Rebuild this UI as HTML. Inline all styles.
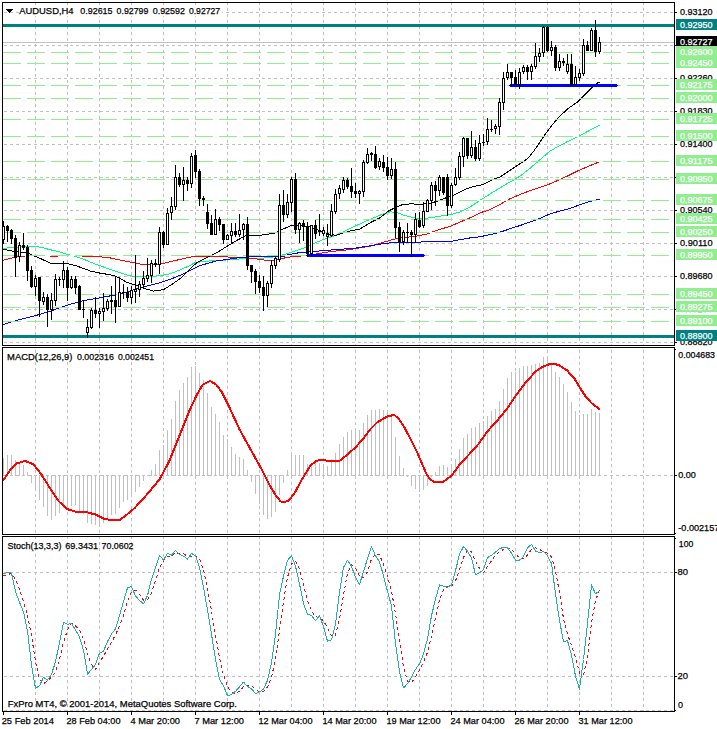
<!DOCTYPE html>
<html><head><meta charset="utf-8"><title>AUDUSD,H4</title>
<style>html,body{margin:0;padding:0;background:#fff;}body{width:717px;height:729px;overflow:hidden;font-family:"Liberation Sans",sans-serif;}svg text{font-family:"Liberation Sans",sans-serif;}</style>
</head><body><svg width="717" height="729" viewBox="0 0 717 729" shape-rendering="crispEdges" font-family="Liberation Sans, sans-serif" style="display:block"><rect x="0" y="0" width="717" height="729" fill="#fff"/>
<path fill="#c0c0c0" d="M35 3h1v2h-1zM35 8h1v3h-1zM35 14h1v3h-1zM35 20h1v3h-1zM35 26h1v3h-1zM35 32h1v3h-1zM35 38h1v3h-1zM35 44h1v3h-1zM35 50h1v3h-1zM35 56h1v3h-1zM35 62h1v3h-1zM35 68h1v3h-1zM35 74h1v3h-1zM35 80h1v3h-1zM35 86h1v3h-1zM35 92h1v3h-1zM35 98h1v3h-1zM35 104h1v3h-1zM35 110h1v3h-1zM35 116h1v3h-1zM35 122h1v3h-1zM35 128h1v3h-1zM35 134h1v3h-1zM35 140h1v3h-1zM35 146h1v3h-1zM35 152h1v3h-1zM35 158h1v3h-1zM35 164h1v3h-1zM35 170h1v3h-1zM35 176h1v3h-1zM35 182h1v3h-1zM35 188h1v3h-1zM35 194h1v3h-1zM35 200h1v3h-1zM35 206h1v3h-1zM35 212h1v3h-1zM35 218h1v3h-1zM35 224h1v3h-1zM35 230h1v3h-1zM35 236h1v3h-1zM35 242h1v3h-1zM35 248h1v3h-1zM35 254h1v3h-1zM35 260h1v3h-1zM35 266h1v3h-1zM35 272h1v3h-1zM35 278h1v3h-1zM35 284h1v3h-1zM35 290h1v3h-1zM35 296h1v3h-1zM35 302h1v3h-1zM35 308h1v3h-1zM35 314h1v3h-1zM35 320h1v3h-1zM35 326h1v3h-1zM35 332h1v3h-1zM35 338h1v3h-1zM35 344h1v1h-1zM67 3h1v2h-1zM67 8h1v3h-1zM67 14h1v3h-1zM67 20h1v3h-1zM67 26h1v3h-1zM67 32h1v3h-1zM67 38h1v3h-1zM67 44h1v3h-1zM67 50h1v3h-1zM67 56h1v3h-1zM67 62h1v3h-1zM67 68h1v3h-1zM67 74h1v3h-1zM67 80h1v3h-1zM67 86h1v3h-1zM67 92h1v3h-1zM67 98h1v3h-1zM67 104h1v3h-1zM67 110h1v3h-1zM67 116h1v3h-1zM67 122h1v3h-1zM67 128h1v3h-1zM67 134h1v3h-1zM67 140h1v3h-1zM67 146h1v3h-1zM67 152h1v3h-1zM67 158h1v3h-1zM67 164h1v3h-1zM67 170h1v3h-1zM67 176h1v3h-1zM67 182h1v3h-1zM67 188h1v3h-1zM67 194h1v3h-1zM67 200h1v3h-1zM67 206h1v3h-1zM67 212h1v3h-1zM67 218h1v3h-1zM67 224h1v3h-1zM67 230h1v3h-1zM67 236h1v3h-1zM67 242h1v3h-1zM67 248h1v3h-1zM67 254h1v3h-1zM67 260h1v3h-1zM67 266h1v3h-1zM67 272h1v3h-1zM67 278h1v3h-1zM67 284h1v3h-1zM67 290h1v3h-1zM67 296h1v3h-1zM67 302h1v3h-1zM67 308h1v3h-1zM67 314h1v3h-1zM67 320h1v3h-1zM67 326h1v3h-1zM67 332h1v3h-1zM67 338h1v3h-1zM67 344h1v1h-1zM99 3h1v2h-1zM99 8h1v3h-1zM99 14h1v3h-1zM99 20h1v3h-1zM99 26h1v3h-1zM99 32h1v3h-1zM99 38h1v3h-1zM99 44h1v3h-1zM99 50h1v3h-1zM99 56h1v3h-1zM99 62h1v3h-1zM99 68h1v3h-1zM99 74h1v3h-1zM99 80h1v3h-1zM99 86h1v3h-1zM99 92h1v3h-1zM99 98h1v3h-1zM99 104h1v3h-1zM99 110h1v3h-1zM99 116h1v3h-1zM99 122h1v3h-1zM99 128h1v3h-1zM99 134h1v3h-1zM99 140h1v3h-1zM99 146h1v3h-1zM99 152h1v3h-1zM99 158h1v3h-1zM99 164h1v3h-1zM99 170h1v3h-1zM99 176h1v3h-1zM99 182h1v3h-1zM99 188h1v3h-1zM99 194h1v3h-1zM99 200h1v3h-1zM99 206h1v3h-1zM99 212h1v3h-1zM99 218h1v3h-1zM99 224h1v3h-1zM99 230h1v3h-1zM99 236h1v3h-1zM99 242h1v3h-1zM99 248h1v3h-1zM99 254h1v3h-1zM99 260h1v3h-1zM99 266h1v3h-1zM99 272h1v3h-1zM99 278h1v3h-1zM99 284h1v3h-1zM99 290h1v3h-1zM99 296h1v3h-1zM99 302h1v3h-1zM99 308h1v3h-1zM99 314h1v3h-1zM99 320h1v3h-1zM99 326h1v3h-1zM99 332h1v3h-1zM99 338h1v3h-1zM99 344h1v1h-1zM131 3h1v2h-1zM131 8h1v3h-1zM131 14h1v3h-1zM131 20h1v3h-1zM131 26h1v3h-1zM131 32h1v3h-1zM131 38h1v3h-1zM131 44h1v3h-1zM131 50h1v3h-1zM131 56h1v3h-1zM131 62h1v3h-1zM131 68h1v3h-1zM131 74h1v3h-1zM131 80h1v3h-1zM131 86h1v3h-1zM131 92h1v3h-1zM131 98h1v3h-1zM131 104h1v3h-1zM131 110h1v3h-1zM131 116h1v3h-1zM131 122h1v3h-1zM131 128h1v3h-1zM131 134h1v3h-1zM131 140h1v3h-1zM131 146h1v3h-1zM131 152h1v3h-1zM131 158h1v3h-1zM131 164h1v3h-1zM131 170h1v3h-1zM131 176h1v3h-1zM131 182h1v3h-1zM131 188h1v3h-1zM131 194h1v3h-1zM131 200h1v3h-1zM131 206h1v3h-1zM131 212h1v3h-1zM131 218h1v3h-1zM131 224h1v3h-1zM131 230h1v3h-1zM131 236h1v3h-1zM131 242h1v3h-1zM131 248h1v3h-1zM131 254h1v3h-1zM131 260h1v3h-1zM131 266h1v3h-1zM131 272h1v3h-1zM131 278h1v3h-1zM131 284h1v3h-1zM131 290h1v3h-1zM131 296h1v3h-1zM131 302h1v3h-1zM131 308h1v3h-1zM131 314h1v3h-1zM131 320h1v3h-1zM131 326h1v3h-1zM131 332h1v3h-1zM131 338h1v3h-1zM131 344h1v1h-1zM163 3h1v2h-1zM163 8h1v3h-1zM163 14h1v3h-1zM163 20h1v3h-1zM163 26h1v3h-1zM163 32h1v3h-1zM163 38h1v3h-1zM163 44h1v3h-1zM163 50h1v3h-1zM163 56h1v3h-1zM163 62h1v3h-1zM163 68h1v3h-1zM163 74h1v3h-1zM163 80h1v3h-1zM163 86h1v3h-1zM163 92h1v3h-1zM163 98h1v3h-1zM163 104h1v3h-1zM163 110h1v3h-1zM163 116h1v3h-1zM163 122h1v3h-1zM163 128h1v3h-1zM163 134h1v3h-1zM163 140h1v3h-1zM163 146h1v3h-1zM163 152h1v3h-1zM163 158h1v3h-1zM163 164h1v3h-1zM163 170h1v3h-1zM163 176h1v3h-1zM163 182h1v3h-1zM163 188h1v3h-1zM163 194h1v3h-1zM163 200h1v3h-1zM163 206h1v3h-1zM163 212h1v3h-1zM163 218h1v3h-1zM163 224h1v3h-1zM163 230h1v3h-1zM163 236h1v3h-1zM163 242h1v3h-1zM163 248h1v3h-1zM163 254h1v3h-1zM163 260h1v3h-1zM163 266h1v3h-1zM163 272h1v3h-1zM163 278h1v3h-1zM163 284h1v3h-1zM163 290h1v3h-1zM163 296h1v3h-1zM163 302h1v3h-1zM163 308h1v3h-1zM163 314h1v3h-1zM163 320h1v3h-1zM163 326h1v3h-1zM163 332h1v3h-1zM163 338h1v3h-1zM163 344h1v1h-1zM195 3h1v2h-1zM195 8h1v3h-1zM195 14h1v3h-1zM195 20h1v3h-1zM195 26h1v3h-1zM195 32h1v3h-1zM195 38h1v3h-1zM195 44h1v3h-1zM195 50h1v3h-1zM195 56h1v3h-1zM195 62h1v3h-1zM195 68h1v3h-1zM195 74h1v3h-1zM195 80h1v3h-1zM195 86h1v3h-1zM195 92h1v3h-1zM195 98h1v3h-1zM195 104h1v3h-1zM195 110h1v3h-1zM195 116h1v3h-1zM195 122h1v3h-1zM195 128h1v3h-1zM195 134h1v3h-1zM195 140h1v3h-1zM195 146h1v3h-1zM195 152h1v3h-1zM195 158h1v3h-1zM195 164h1v3h-1zM195 170h1v3h-1zM195 176h1v3h-1zM195 182h1v3h-1zM195 188h1v3h-1zM195 194h1v3h-1zM195 200h1v3h-1zM195 206h1v3h-1zM195 212h1v3h-1zM195 218h1v3h-1zM195 224h1v3h-1zM195 230h1v3h-1zM195 236h1v3h-1zM195 242h1v3h-1zM195 248h1v3h-1zM195 254h1v3h-1zM195 260h1v3h-1zM195 266h1v3h-1zM195 272h1v3h-1zM195 278h1v3h-1zM195 284h1v3h-1zM195 290h1v3h-1zM195 296h1v3h-1zM195 302h1v3h-1zM195 308h1v3h-1zM195 314h1v3h-1zM195 320h1v3h-1zM195 326h1v3h-1zM195 332h1v3h-1zM195 338h1v3h-1zM195 344h1v1h-1zM227 3h1v2h-1zM227 8h1v3h-1zM227 14h1v3h-1zM227 20h1v3h-1zM227 26h1v3h-1zM227 32h1v3h-1zM227 38h1v3h-1zM227 44h1v3h-1zM227 50h1v3h-1zM227 56h1v3h-1zM227 62h1v3h-1zM227 68h1v3h-1zM227 74h1v3h-1zM227 80h1v3h-1zM227 86h1v3h-1zM227 92h1v3h-1zM227 98h1v3h-1zM227 104h1v3h-1zM227 110h1v3h-1zM227 116h1v3h-1zM227 122h1v3h-1zM227 128h1v3h-1zM227 134h1v3h-1zM227 140h1v3h-1zM227 146h1v3h-1zM227 152h1v3h-1zM227 158h1v3h-1zM227 164h1v3h-1zM227 170h1v3h-1zM227 176h1v3h-1zM227 182h1v3h-1zM227 188h1v3h-1zM227 194h1v3h-1zM227 200h1v3h-1zM227 206h1v3h-1zM227 212h1v3h-1zM227 218h1v3h-1zM227 224h1v3h-1zM227 230h1v3h-1zM227 236h1v3h-1zM227 242h1v3h-1zM227 248h1v3h-1zM227 254h1v3h-1zM227 260h1v3h-1zM227 266h1v3h-1zM227 272h1v3h-1zM227 278h1v3h-1zM227 284h1v3h-1zM227 290h1v3h-1zM227 296h1v3h-1zM227 302h1v3h-1zM227 308h1v3h-1zM227 314h1v3h-1zM227 320h1v3h-1zM227 326h1v3h-1zM227 332h1v3h-1zM227 338h1v3h-1zM227 344h1v1h-1zM259 3h1v2h-1zM259 8h1v3h-1zM259 14h1v3h-1zM259 20h1v3h-1zM259 26h1v3h-1zM259 32h1v3h-1zM259 38h1v3h-1zM259 44h1v3h-1zM259 50h1v3h-1zM259 56h1v3h-1zM259 62h1v3h-1zM259 68h1v3h-1zM259 74h1v3h-1zM259 80h1v3h-1zM259 86h1v3h-1zM259 92h1v3h-1zM259 98h1v3h-1zM259 104h1v3h-1zM259 110h1v3h-1zM259 116h1v3h-1zM259 122h1v3h-1zM259 128h1v3h-1zM259 134h1v3h-1zM259 140h1v3h-1zM259 146h1v3h-1zM259 152h1v3h-1zM259 158h1v3h-1zM259 164h1v3h-1zM259 170h1v3h-1zM259 176h1v3h-1zM259 182h1v3h-1zM259 188h1v3h-1zM259 194h1v3h-1zM259 200h1v3h-1zM259 206h1v3h-1zM259 212h1v3h-1zM259 218h1v3h-1zM259 224h1v3h-1zM259 230h1v3h-1zM259 236h1v3h-1zM259 242h1v3h-1zM259 248h1v3h-1zM259 254h1v3h-1zM259 260h1v3h-1zM259 266h1v3h-1zM259 272h1v3h-1zM259 278h1v3h-1zM259 284h1v3h-1zM259 290h1v3h-1zM259 296h1v3h-1zM259 302h1v3h-1zM259 308h1v3h-1zM259 314h1v3h-1zM259 320h1v3h-1zM259 326h1v3h-1zM259 332h1v3h-1zM259 338h1v3h-1zM259 344h1v1h-1zM291 3h1v2h-1zM291 8h1v3h-1zM291 14h1v3h-1zM291 20h1v3h-1zM291 26h1v3h-1zM291 32h1v3h-1zM291 38h1v3h-1zM291 44h1v3h-1zM291 50h1v3h-1zM291 56h1v3h-1zM291 62h1v3h-1zM291 68h1v3h-1zM291 74h1v3h-1zM291 80h1v3h-1zM291 86h1v3h-1zM291 92h1v3h-1zM291 98h1v3h-1zM291 104h1v3h-1zM291 110h1v3h-1zM291 116h1v3h-1zM291 122h1v3h-1zM291 128h1v3h-1zM291 134h1v3h-1zM291 140h1v3h-1zM291 146h1v3h-1zM291 152h1v3h-1zM291 158h1v3h-1zM291 164h1v3h-1zM291 170h1v3h-1zM291 176h1v3h-1zM291 182h1v3h-1zM291 188h1v3h-1zM291 194h1v3h-1zM291 200h1v3h-1zM291 206h1v3h-1zM291 212h1v3h-1zM291 218h1v3h-1zM291 224h1v3h-1zM291 230h1v3h-1zM291 236h1v3h-1zM291 242h1v3h-1zM291 248h1v3h-1zM291 254h1v3h-1zM291 260h1v3h-1zM291 266h1v3h-1zM291 272h1v3h-1zM291 278h1v3h-1zM291 284h1v3h-1zM291 290h1v3h-1zM291 296h1v3h-1zM291 302h1v3h-1zM291 308h1v3h-1zM291 314h1v3h-1zM291 320h1v3h-1zM291 326h1v3h-1zM291 332h1v3h-1zM291 338h1v3h-1zM291 344h1v1h-1zM323 3h1v2h-1zM323 8h1v3h-1zM323 14h1v3h-1zM323 20h1v3h-1zM323 26h1v3h-1zM323 32h1v3h-1zM323 38h1v3h-1zM323 44h1v3h-1zM323 50h1v3h-1zM323 56h1v3h-1zM323 62h1v3h-1zM323 68h1v3h-1zM323 74h1v3h-1zM323 80h1v3h-1zM323 86h1v3h-1zM323 92h1v3h-1zM323 98h1v3h-1zM323 104h1v3h-1zM323 110h1v3h-1zM323 116h1v3h-1zM323 122h1v3h-1zM323 128h1v3h-1zM323 134h1v3h-1zM323 140h1v3h-1zM323 146h1v3h-1zM323 152h1v3h-1zM323 158h1v3h-1zM323 164h1v3h-1zM323 170h1v3h-1zM323 176h1v3h-1zM323 182h1v3h-1zM323 188h1v3h-1zM323 194h1v3h-1zM323 200h1v3h-1zM323 206h1v3h-1zM323 212h1v3h-1zM323 218h1v3h-1zM323 224h1v3h-1zM323 230h1v3h-1zM323 236h1v3h-1zM323 242h1v3h-1zM323 248h1v3h-1zM323 254h1v3h-1zM323 260h1v3h-1zM323 266h1v3h-1zM323 272h1v3h-1zM323 278h1v3h-1zM323 284h1v3h-1zM323 290h1v3h-1zM323 296h1v3h-1zM323 302h1v3h-1zM323 308h1v3h-1zM323 314h1v3h-1zM323 320h1v3h-1zM323 326h1v3h-1zM323 332h1v3h-1zM323 338h1v3h-1zM323 344h1v1h-1zM355 3h1v2h-1zM355 8h1v3h-1zM355 14h1v3h-1zM355 20h1v3h-1zM355 26h1v3h-1zM355 32h1v3h-1zM355 38h1v3h-1zM355 44h1v3h-1zM355 50h1v3h-1zM355 56h1v3h-1zM355 62h1v3h-1zM355 68h1v3h-1zM355 74h1v3h-1zM355 80h1v3h-1zM355 86h1v3h-1zM355 92h1v3h-1zM355 98h1v3h-1zM355 104h1v3h-1zM355 110h1v3h-1zM355 116h1v3h-1zM355 122h1v3h-1zM355 128h1v3h-1zM355 134h1v3h-1zM355 140h1v3h-1zM355 146h1v3h-1zM355 152h1v3h-1zM355 158h1v3h-1zM355 164h1v3h-1zM355 170h1v3h-1zM355 176h1v3h-1zM355 182h1v3h-1zM355 188h1v3h-1zM355 194h1v3h-1zM355 200h1v3h-1zM355 206h1v3h-1zM355 212h1v3h-1zM355 218h1v3h-1zM355 224h1v3h-1zM355 230h1v3h-1zM355 236h1v3h-1zM355 242h1v3h-1zM355 248h1v3h-1zM355 254h1v3h-1zM355 260h1v3h-1zM355 266h1v3h-1zM355 272h1v3h-1zM355 278h1v3h-1zM355 284h1v3h-1zM355 290h1v3h-1zM355 296h1v3h-1zM355 302h1v3h-1zM355 308h1v3h-1zM355 314h1v3h-1zM355 320h1v3h-1zM355 326h1v3h-1zM355 332h1v3h-1zM355 338h1v3h-1zM355 344h1v1h-1zM387 3h1v2h-1zM387 8h1v3h-1zM387 14h1v3h-1zM387 20h1v3h-1zM387 26h1v3h-1zM387 32h1v3h-1zM387 38h1v3h-1zM387 44h1v3h-1zM387 50h1v3h-1zM387 56h1v3h-1zM387 62h1v3h-1zM387 68h1v3h-1zM387 74h1v3h-1zM387 80h1v3h-1zM387 86h1v3h-1zM387 92h1v3h-1zM387 98h1v3h-1zM387 104h1v3h-1zM387 110h1v3h-1zM387 116h1v3h-1zM387 122h1v3h-1zM387 128h1v3h-1zM387 134h1v3h-1zM387 140h1v3h-1zM387 146h1v3h-1zM387 152h1v3h-1zM387 158h1v3h-1zM387 164h1v3h-1zM387 170h1v3h-1zM387 176h1v3h-1zM387 182h1v3h-1zM387 188h1v3h-1zM387 194h1v3h-1zM387 200h1v3h-1zM387 206h1v3h-1zM387 212h1v3h-1zM387 218h1v3h-1zM387 224h1v3h-1zM387 230h1v3h-1zM387 236h1v3h-1zM387 242h1v3h-1zM387 248h1v3h-1zM387 254h1v3h-1zM387 260h1v3h-1zM387 266h1v3h-1zM387 272h1v3h-1zM387 278h1v3h-1zM387 284h1v3h-1zM387 290h1v3h-1zM387 296h1v3h-1zM387 302h1v3h-1zM387 308h1v3h-1zM387 314h1v3h-1zM387 320h1v3h-1zM387 326h1v3h-1zM387 332h1v3h-1zM387 338h1v3h-1zM387 344h1v1h-1zM419 3h1v2h-1zM419 8h1v3h-1zM419 14h1v3h-1zM419 20h1v3h-1zM419 26h1v3h-1zM419 32h1v3h-1zM419 38h1v3h-1zM419 44h1v3h-1zM419 50h1v3h-1zM419 56h1v3h-1zM419 62h1v3h-1zM419 68h1v3h-1zM419 74h1v3h-1zM419 80h1v3h-1zM419 86h1v3h-1zM419 92h1v3h-1zM419 98h1v3h-1zM419 104h1v3h-1zM419 110h1v3h-1zM419 116h1v3h-1zM419 122h1v3h-1zM419 128h1v3h-1zM419 134h1v3h-1zM419 140h1v3h-1zM419 146h1v3h-1zM419 152h1v3h-1zM419 158h1v3h-1zM419 164h1v3h-1zM419 170h1v3h-1zM419 176h1v3h-1zM419 182h1v3h-1zM419 188h1v3h-1zM419 194h1v3h-1zM419 200h1v3h-1zM419 206h1v3h-1zM419 212h1v3h-1zM419 218h1v3h-1zM419 224h1v3h-1zM419 230h1v3h-1zM419 236h1v3h-1zM419 242h1v3h-1zM419 248h1v3h-1zM419 254h1v3h-1zM419 260h1v3h-1zM419 266h1v3h-1zM419 272h1v3h-1zM419 278h1v3h-1zM419 284h1v3h-1zM419 290h1v3h-1zM419 296h1v3h-1zM419 302h1v3h-1zM419 308h1v3h-1zM419 314h1v3h-1zM419 320h1v3h-1zM419 326h1v3h-1zM419 332h1v3h-1zM419 338h1v3h-1zM419 344h1v1h-1zM451 3h1v2h-1zM451 8h1v3h-1zM451 14h1v3h-1zM451 20h1v3h-1zM451 26h1v3h-1zM451 32h1v3h-1zM451 38h1v3h-1zM451 44h1v3h-1zM451 50h1v3h-1zM451 56h1v3h-1zM451 62h1v3h-1zM451 68h1v3h-1zM451 74h1v3h-1zM451 80h1v3h-1zM451 86h1v3h-1zM451 92h1v3h-1zM451 98h1v3h-1zM451 104h1v3h-1zM451 110h1v3h-1zM451 116h1v3h-1zM451 122h1v3h-1zM451 128h1v3h-1zM451 134h1v3h-1zM451 140h1v3h-1zM451 146h1v3h-1zM451 152h1v3h-1zM451 158h1v3h-1zM451 164h1v3h-1zM451 170h1v3h-1zM451 176h1v3h-1zM451 182h1v3h-1zM451 188h1v3h-1zM451 194h1v3h-1zM451 200h1v3h-1zM451 206h1v3h-1zM451 212h1v3h-1zM451 218h1v3h-1zM451 224h1v3h-1zM451 230h1v3h-1zM451 236h1v3h-1zM451 242h1v3h-1zM451 248h1v3h-1zM451 254h1v3h-1zM451 260h1v3h-1zM451 266h1v3h-1zM451 272h1v3h-1zM451 278h1v3h-1zM451 284h1v3h-1zM451 290h1v3h-1zM451 296h1v3h-1zM451 302h1v3h-1zM451 308h1v3h-1zM451 314h1v3h-1zM451 320h1v3h-1zM451 326h1v3h-1zM451 332h1v3h-1zM451 338h1v3h-1zM451 344h1v1h-1zM483 3h1v2h-1zM483 8h1v3h-1zM483 14h1v3h-1zM483 20h1v3h-1zM483 26h1v3h-1zM483 32h1v3h-1zM483 38h1v3h-1zM483 44h1v3h-1zM483 50h1v3h-1zM483 56h1v3h-1zM483 62h1v3h-1zM483 68h1v3h-1zM483 74h1v3h-1zM483 80h1v3h-1zM483 86h1v3h-1zM483 92h1v3h-1zM483 98h1v3h-1zM483 104h1v3h-1zM483 110h1v3h-1zM483 116h1v3h-1zM483 122h1v3h-1zM483 128h1v3h-1zM483 134h1v3h-1zM483 140h1v3h-1zM483 146h1v3h-1zM483 152h1v3h-1zM483 158h1v3h-1zM483 164h1v3h-1zM483 170h1v3h-1zM483 176h1v3h-1zM483 182h1v3h-1zM483 188h1v3h-1zM483 194h1v3h-1zM483 200h1v3h-1zM483 206h1v3h-1zM483 212h1v3h-1zM483 218h1v3h-1zM483 224h1v3h-1zM483 230h1v3h-1zM483 236h1v3h-1zM483 242h1v3h-1zM483 248h1v3h-1zM483 254h1v3h-1zM483 260h1v3h-1zM483 266h1v3h-1zM483 272h1v3h-1zM483 278h1v3h-1zM483 284h1v3h-1zM483 290h1v3h-1zM483 296h1v3h-1zM483 302h1v3h-1zM483 308h1v3h-1zM483 314h1v3h-1zM483 320h1v3h-1zM483 326h1v3h-1zM483 332h1v3h-1zM483 338h1v3h-1zM483 344h1v1h-1zM515 3h1v2h-1zM515 8h1v3h-1zM515 14h1v3h-1zM515 20h1v3h-1zM515 26h1v3h-1zM515 32h1v3h-1zM515 38h1v3h-1zM515 44h1v3h-1zM515 50h1v3h-1zM515 56h1v3h-1zM515 62h1v3h-1zM515 68h1v3h-1zM515 74h1v3h-1zM515 80h1v3h-1zM515 86h1v3h-1zM515 92h1v3h-1zM515 98h1v3h-1zM515 104h1v3h-1zM515 110h1v3h-1zM515 116h1v3h-1zM515 122h1v3h-1zM515 128h1v3h-1zM515 134h1v3h-1zM515 140h1v3h-1zM515 146h1v3h-1zM515 152h1v3h-1zM515 158h1v3h-1zM515 164h1v3h-1zM515 170h1v3h-1zM515 176h1v3h-1zM515 182h1v3h-1zM515 188h1v3h-1zM515 194h1v3h-1zM515 200h1v3h-1zM515 206h1v3h-1zM515 212h1v3h-1zM515 218h1v3h-1zM515 224h1v3h-1zM515 230h1v3h-1zM515 236h1v3h-1zM515 242h1v3h-1zM515 248h1v3h-1zM515 254h1v3h-1zM515 260h1v3h-1zM515 266h1v3h-1zM515 272h1v3h-1zM515 278h1v3h-1zM515 284h1v3h-1zM515 290h1v3h-1zM515 296h1v3h-1zM515 302h1v3h-1zM515 308h1v3h-1zM515 314h1v3h-1zM515 320h1v3h-1zM515 326h1v3h-1zM515 332h1v3h-1zM515 338h1v3h-1zM515 344h1v1h-1zM547 3h1v2h-1zM547 8h1v3h-1zM547 14h1v3h-1zM547 20h1v3h-1zM547 26h1v3h-1zM547 32h1v3h-1zM547 38h1v3h-1zM547 44h1v3h-1zM547 50h1v3h-1zM547 56h1v3h-1zM547 62h1v3h-1zM547 68h1v3h-1zM547 74h1v3h-1zM547 80h1v3h-1zM547 86h1v3h-1zM547 92h1v3h-1zM547 98h1v3h-1zM547 104h1v3h-1zM547 110h1v3h-1zM547 116h1v3h-1zM547 122h1v3h-1zM547 128h1v3h-1zM547 134h1v3h-1zM547 140h1v3h-1zM547 146h1v3h-1zM547 152h1v3h-1zM547 158h1v3h-1zM547 164h1v3h-1zM547 170h1v3h-1zM547 176h1v3h-1zM547 182h1v3h-1zM547 188h1v3h-1zM547 194h1v3h-1zM547 200h1v3h-1zM547 206h1v3h-1zM547 212h1v3h-1zM547 218h1v3h-1zM547 224h1v3h-1zM547 230h1v3h-1zM547 236h1v3h-1zM547 242h1v3h-1zM547 248h1v3h-1zM547 254h1v3h-1zM547 260h1v3h-1zM547 266h1v3h-1zM547 272h1v3h-1zM547 278h1v3h-1zM547 284h1v3h-1zM547 290h1v3h-1zM547 296h1v3h-1zM547 302h1v3h-1zM547 308h1v3h-1zM547 314h1v3h-1zM547 320h1v3h-1zM547 326h1v3h-1zM547 332h1v3h-1zM547 338h1v3h-1zM547 344h1v1h-1zM579 3h1v2h-1zM579 8h1v3h-1zM579 14h1v3h-1zM579 20h1v3h-1zM579 26h1v3h-1zM579 32h1v3h-1zM579 38h1v3h-1zM579 44h1v3h-1zM579 50h1v3h-1zM579 56h1v3h-1zM579 62h1v3h-1zM579 68h1v3h-1zM579 74h1v3h-1zM579 80h1v3h-1zM579 86h1v3h-1zM579 92h1v3h-1zM579 98h1v3h-1zM579 104h1v3h-1zM579 110h1v3h-1zM579 116h1v3h-1zM579 122h1v3h-1zM579 128h1v3h-1zM579 134h1v3h-1zM579 140h1v3h-1zM579 146h1v3h-1zM579 152h1v3h-1zM579 158h1v3h-1zM579 164h1v3h-1zM579 170h1v3h-1zM579 176h1v3h-1zM579 182h1v3h-1zM579 188h1v3h-1zM579 194h1v3h-1zM579 200h1v3h-1zM579 206h1v3h-1zM579 212h1v3h-1zM579 218h1v3h-1zM579 224h1v3h-1zM579 230h1v3h-1zM579 236h1v3h-1zM579 242h1v3h-1zM579 248h1v3h-1zM579 254h1v3h-1zM579 260h1v3h-1zM579 266h1v3h-1zM579 272h1v3h-1zM579 278h1v3h-1zM579 284h1v3h-1zM579 290h1v3h-1zM579 296h1v3h-1zM579 302h1v3h-1zM579 308h1v3h-1zM579 314h1v3h-1zM579 320h1v3h-1zM579 326h1v3h-1zM579 332h1v3h-1zM579 338h1v3h-1zM579 344h1v1h-1zM611 3h1v2h-1zM611 8h1v3h-1zM611 14h1v3h-1zM611 20h1v3h-1zM611 26h1v3h-1zM611 32h1v3h-1zM611 38h1v3h-1zM611 44h1v3h-1zM611 50h1v3h-1zM611 56h1v3h-1zM611 62h1v3h-1zM611 68h1v3h-1zM611 74h1v3h-1zM611 80h1v3h-1zM611 86h1v3h-1zM611 92h1v3h-1zM611 98h1v3h-1zM611 104h1v3h-1zM611 110h1v3h-1zM611 116h1v3h-1zM611 122h1v3h-1zM611 128h1v3h-1zM611 134h1v3h-1zM611 140h1v3h-1zM611 146h1v3h-1zM611 152h1v3h-1zM611 158h1v3h-1zM611 164h1v3h-1zM611 170h1v3h-1zM611 176h1v3h-1zM611 182h1v3h-1zM611 188h1v3h-1zM611 194h1v3h-1zM611 200h1v3h-1zM611 206h1v3h-1zM611 212h1v3h-1zM611 218h1v3h-1zM611 224h1v3h-1zM611 230h1v3h-1zM611 236h1v3h-1zM611 242h1v3h-1zM611 248h1v3h-1zM611 254h1v3h-1zM611 260h1v3h-1zM611 266h1v3h-1zM611 272h1v3h-1zM611 278h1v3h-1zM611 284h1v3h-1zM611 290h1v3h-1zM611 296h1v3h-1zM611 302h1v3h-1zM611 308h1v3h-1zM611 314h1v3h-1zM611 320h1v3h-1zM611 326h1v3h-1zM611 332h1v3h-1zM611 338h1v3h-1zM611 344h1v1h-1zM643 3h1v2h-1zM643 8h1v3h-1zM643 14h1v3h-1zM643 20h1v3h-1zM643 26h1v3h-1zM643 32h1v3h-1zM643 38h1v3h-1zM643 44h1v3h-1zM643 50h1v3h-1zM643 56h1v3h-1zM643 62h1v3h-1zM643 68h1v3h-1zM643 74h1v3h-1zM643 80h1v3h-1zM643 86h1v3h-1zM643 92h1v3h-1zM643 98h1v3h-1zM643 104h1v3h-1zM643 110h1v3h-1zM643 116h1v3h-1zM643 122h1v3h-1zM643 128h1v3h-1zM643 134h1v3h-1zM643 140h1v3h-1zM643 146h1v3h-1zM643 152h1v3h-1zM643 158h1v3h-1zM643 164h1v3h-1zM643 170h1v3h-1zM643 176h1v3h-1zM643 182h1v3h-1zM643 188h1v3h-1zM643 194h1v3h-1zM643 200h1v3h-1zM643 206h1v3h-1zM643 212h1v3h-1zM643 218h1v3h-1zM643 224h1v3h-1zM643 230h1v3h-1zM643 236h1v3h-1zM643 242h1v3h-1zM643 248h1v3h-1zM643 254h1v3h-1zM643 260h1v3h-1zM643 266h1v3h-1zM643 272h1v3h-1zM643 278h1v3h-1zM643 284h1v3h-1zM643 290h1v3h-1zM643 296h1v3h-1zM643 302h1v3h-1zM643 308h1v3h-1zM643 314h1v3h-1zM643 320h1v3h-1zM643 326h1v3h-1zM643 332h1v3h-1zM643 338h1v3h-1zM643 344h1v1h-1zM35 350h1v3h-1zM35 356h1v3h-1zM35 362h1v3h-1zM35 368h1v3h-1zM35 374h1v3h-1zM35 380h1v3h-1zM35 386h1v3h-1zM35 392h1v3h-1zM35 398h1v3h-1zM35 404h1v3h-1zM35 410h1v3h-1zM35 416h1v3h-1zM35 422h1v3h-1zM35 428h1v3h-1zM35 434h1v3h-1zM35 440h1v3h-1zM35 446h1v3h-1zM35 452h1v3h-1zM35 458h1v3h-1zM35 464h1v3h-1zM35 470h1v3h-1zM35 476h1v3h-1zM35 482h1v3h-1zM35 488h1v3h-1zM35 494h1v3h-1zM35 500h1v3h-1zM35 506h1v3h-1zM35 512h1v3h-1zM35 518h1v3h-1zM35 524h1v3h-1zM35 530h1v3h-1zM67 350h1v3h-1zM67 356h1v3h-1zM67 362h1v3h-1zM67 368h1v3h-1zM67 374h1v3h-1zM67 380h1v3h-1zM67 386h1v3h-1zM67 392h1v3h-1zM67 398h1v3h-1zM67 404h1v3h-1zM67 410h1v3h-1zM67 416h1v3h-1zM67 422h1v3h-1zM67 428h1v3h-1zM67 434h1v3h-1zM67 440h1v3h-1zM67 446h1v3h-1zM67 452h1v3h-1zM67 458h1v3h-1zM67 464h1v3h-1zM67 470h1v3h-1zM67 476h1v3h-1zM67 482h1v3h-1zM67 488h1v3h-1zM67 494h1v3h-1zM67 500h1v3h-1zM67 506h1v3h-1zM67 512h1v3h-1zM67 518h1v3h-1zM67 524h1v3h-1zM67 530h1v3h-1zM99 350h1v3h-1zM99 356h1v3h-1zM99 362h1v3h-1zM99 368h1v3h-1zM99 374h1v3h-1zM99 380h1v3h-1zM99 386h1v3h-1zM99 392h1v3h-1zM99 398h1v3h-1zM99 404h1v3h-1zM99 410h1v3h-1zM99 416h1v3h-1zM99 422h1v3h-1zM99 428h1v3h-1zM99 434h1v3h-1zM99 440h1v3h-1zM99 446h1v3h-1zM99 452h1v3h-1zM99 458h1v3h-1zM99 464h1v3h-1zM99 470h1v3h-1zM99 476h1v3h-1zM99 482h1v3h-1zM99 488h1v3h-1zM99 494h1v3h-1zM99 500h1v3h-1zM99 506h1v3h-1zM99 512h1v3h-1zM99 518h1v3h-1zM99 524h1v3h-1zM99 530h1v3h-1zM131 350h1v3h-1zM131 356h1v3h-1zM131 362h1v3h-1zM131 368h1v3h-1zM131 374h1v3h-1zM131 380h1v3h-1zM131 386h1v3h-1zM131 392h1v3h-1zM131 398h1v3h-1zM131 404h1v3h-1zM131 410h1v3h-1zM131 416h1v3h-1zM131 422h1v3h-1zM131 428h1v3h-1zM131 434h1v3h-1zM131 440h1v3h-1zM131 446h1v3h-1zM131 452h1v3h-1zM131 458h1v3h-1zM131 464h1v3h-1zM131 470h1v3h-1zM131 476h1v3h-1zM131 482h1v3h-1zM131 488h1v3h-1zM131 494h1v3h-1zM131 500h1v3h-1zM131 506h1v3h-1zM131 512h1v3h-1zM131 518h1v3h-1zM131 524h1v3h-1zM131 530h1v3h-1zM163 350h1v3h-1zM163 356h1v3h-1zM163 362h1v3h-1zM163 368h1v3h-1zM163 374h1v3h-1zM163 380h1v3h-1zM163 386h1v3h-1zM163 392h1v3h-1zM163 398h1v3h-1zM163 404h1v3h-1zM163 410h1v3h-1zM163 416h1v3h-1zM163 422h1v3h-1zM163 428h1v3h-1zM163 434h1v3h-1zM163 440h1v3h-1zM163 446h1v3h-1zM163 452h1v3h-1zM163 458h1v3h-1zM163 464h1v3h-1zM163 470h1v3h-1zM163 476h1v3h-1zM163 482h1v3h-1zM163 488h1v3h-1zM163 494h1v3h-1zM163 500h1v3h-1zM163 506h1v3h-1zM163 512h1v3h-1zM163 518h1v3h-1zM163 524h1v3h-1zM163 530h1v3h-1zM195 350h1v3h-1zM195 356h1v3h-1zM195 362h1v3h-1zM195 368h1v3h-1zM195 374h1v3h-1zM195 380h1v3h-1zM195 386h1v3h-1zM195 392h1v3h-1zM195 398h1v3h-1zM195 404h1v3h-1zM195 410h1v3h-1zM195 416h1v3h-1zM195 422h1v3h-1zM195 428h1v3h-1zM195 434h1v3h-1zM195 440h1v3h-1zM195 446h1v3h-1zM195 452h1v3h-1zM195 458h1v3h-1zM195 464h1v3h-1zM195 470h1v3h-1zM195 476h1v3h-1zM195 482h1v3h-1zM195 488h1v3h-1zM195 494h1v3h-1zM195 500h1v3h-1zM195 506h1v3h-1zM195 512h1v3h-1zM195 518h1v3h-1zM195 524h1v3h-1zM195 530h1v3h-1zM227 350h1v3h-1zM227 356h1v3h-1zM227 362h1v3h-1zM227 368h1v3h-1zM227 374h1v3h-1zM227 380h1v3h-1zM227 386h1v3h-1zM227 392h1v3h-1zM227 398h1v3h-1zM227 404h1v3h-1zM227 410h1v3h-1zM227 416h1v3h-1zM227 422h1v3h-1zM227 428h1v3h-1zM227 434h1v3h-1zM227 440h1v3h-1zM227 446h1v3h-1zM227 452h1v3h-1zM227 458h1v3h-1zM227 464h1v3h-1zM227 470h1v3h-1zM227 476h1v3h-1zM227 482h1v3h-1zM227 488h1v3h-1zM227 494h1v3h-1zM227 500h1v3h-1zM227 506h1v3h-1zM227 512h1v3h-1zM227 518h1v3h-1zM227 524h1v3h-1zM227 530h1v3h-1zM259 350h1v3h-1zM259 356h1v3h-1zM259 362h1v3h-1zM259 368h1v3h-1zM259 374h1v3h-1zM259 380h1v3h-1zM259 386h1v3h-1zM259 392h1v3h-1zM259 398h1v3h-1zM259 404h1v3h-1zM259 410h1v3h-1zM259 416h1v3h-1zM259 422h1v3h-1zM259 428h1v3h-1zM259 434h1v3h-1zM259 440h1v3h-1zM259 446h1v3h-1zM259 452h1v3h-1zM259 458h1v3h-1zM259 464h1v3h-1zM259 470h1v3h-1zM259 476h1v3h-1zM259 482h1v3h-1zM259 488h1v3h-1zM259 494h1v3h-1zM259 500h1v3h-1zM259 506h1v3h-1zM259 512h1v3h-1zM259 518h1v3h-1zM259 524h1v3h-1zM259 530h1v3h-1zM291 350h1v3h-1zM291 356h1v3h-1zM291 362h1v3h-1zM291 368h1v3h-1zM291 374h1v3h-1zM291 380h1v3h-1zM291 386h1v3h-1zM291 392h1v3h-1zM291 398h1v3h-1zM291 404h1v3h-1zM291 410h1v3h-1zM291 416h1v3h-1zM291 422h1v3h-1zM291 428h1v3h-1zM291 434h1v3h-1zM291 440h1v3h-1zM291 446h1v3h-1zM291 452h1v3h-1zM291 458h1v3h-1zM291 464h1v3h-1zM291 470h1v3h-1zM291 476h1v3h-1zM291 482h1v3h-1zM291 488h1v3h-1zM291 494h1v3h-1zM291 500h1v3h-1zM291 506h1v3h-1zM291 512h1v3h-1zM291 518h1v3h-1zM291 524h1v3h-1zM291 530h1v3h-1zM323 350h1v3h-1zM323 356h1v3h-1zM323 362h1v3h-1zM323 368h1v3h-1zM323 374h1v3h-1zM323 380h1v3h-1zM323 386h1v3h-1zM323 392h1v3h-1zM323 398h1v3h-1zM323 404h1v3h-1zM323 410h1v3h-1zM323 416h1v3h-1zM323 422h1v3h-1zM323 428h1v3h-1zM323 434h1v3h-1zM323 440h1v3h-1zM323 446h1v3h-1zM323 452h1v3h-1zM323 458h1v3h-1zM323 464h1v3h-1zM323 470h1v3h-1zM323 476h1v3h-1zM323 482h1v3h-1zM323 488h1v3h-1zM323 494h1v3h-1zM323 500h1v3h-1zM323 506h1v3h-1zM323 512h1v3h-1zM323 518h1v3h-1zM323 524h1v3h-1zM323 530h1v3h-1zM355 350h1v3h-1zM355 356h1v3h-1zM355 362h1v3h-1zM355 368h1v3h-1zM355 374h1v3h-1zM355 380h1v3h-1zM355 386h1v3h-1zM355 392h1v3h-1zM355 398h1v3h-1zM355 404h1v3h-1zM355 410h1v3h-1zM355 416h1v3h-1zM355 422h1v3h-1zM355 428h1v3h-1zM355 434h1v3h-1zM355 440h1v3h-1zM355 446h1v3h-1zM355 452h1v3h-1zM355 458h1v3h-1zM355 464h1v3h-1zM355 470h1v3h-1zM355 476h1v3h-1zM355 482h1v3h-1zM355 488h1v3h-1zM355 494h1v3h-1zM355 500h1v3h-1zM355 506h1v3h-1zM355 512h1v3h-1zM355 518h1v3h-1zM355 524h1v3h-1zM355 530h1v3h-1zM387 350h1v3h-1zM387 356h1v3h-1zM387 362h1v3h-1zM387 368h1v3h-1zM387 374h1v3h-1zM387 380h1v3h-1zM387 386h1v3h-1zM387 392h1v3h-1zM387 398h1v3h-1zM387 404h1v3h-1zM387 410h1v3h-1zM387 416h1v3h-1zM387 422h1v3h-1zM387 428h1v3h-1zM387 434h1v3h-1zM387 440h1v3h-1zM387 446h1v3h-1zM387 452h1v3h-1zM387 458h1v3h-1zM387 464h1v3h-1zM387 470h1v3h-1zM387 476h1v3h-1zM387 482h1v3h-1zM387 488h1v3h-1zM387 494h1v3h-1zM387 500h1v3h-1zM387 506h1v3h-1zM387 512h1v3h-1zM387 518h1v3h-1zM387 524h1v3h-1zM387 530h1v3h-1zM419 350h1v3h-1zM419 356h1v3h-1zM419 362h1v3h-1zM419 368h1v3h-1zM419 374h1v3h-1zM419 380h1v3h-1zM419 386h1v3h-1zM419 392h1v3h-1zM419 398h1v3h-1zM419 404h1v3h-1zM419 410h1v3h-1zM419 416h1v3h-1zM419 422h1v3h-1zM419 428h1v3h-1zM419 434h1v3h-1zM419 440h1v3h-1zM419 446h1v3h-1zM419 452h1v3h-1zM419 458h1v3h-1zM419 464h1v3h-1zM419 470h1v3h-1zM419 476h1v3h-1zM419 482h1v3h-1zM419 488h1v3h-1zM419 494h1v3h-1zM419 500h1v3h-1zM419 506h1v3h-1zM419 512h1v3h-1zM419 518h1v3h-1zM419 524h1v3h-1zM419 530h1v3h-1zM451 350h1v3h-1zM451 356h1v3h-1zM451 362h1v3h-1zM451 368h1v3h-1zM451 374h1v3h-1zM451 380h1v3h-1zM451 386h1v3h-1zM451 392h1v3h-1zM451 398h1v3h-1zM451 404h1v3h-1zM451 410h1v3h-1zM451 416h1v3h-1zM451 422h1v3h-1zM451 428h1v3h-1zM451 434h1v3h-1zM451 440h1v3h-1zM451 446h1v3h-1zM451 452h1v3h-1zM451 458h1v3h-1zM451 464h1v3h-1zM451 470h1v3h-1zM451 476h1v3h-1zM451 482h1v3h-1zM451 488h1v3h-1zM451 494h1v3h-1zM451 500h1v3h-1zM451 506h1v3h-1zM451 512h1v3h-1zM451 518h1v3h-1zM451 524h1v3h-1zM451 530h1v3h-1zM483 350h1v3h-1zM483 356h1v3h-1zM483 362h1v3h-1zM483 368h1v3h-1zM483 374h1v3h-1zM483 380h1v3h-1zM483 386h1v3h-1zM483 392h1v3h-1zM483 398h1v3h-1zM483 404h1v3h-1zM483 410h1v3h-1zM483 416h1v3h-1zM483 422h1v3h-1zM483 428h1v3h-1zM483 434h1v3h-1zM483 440h1v3h-1zM483 446h1v3h-1zM483 452h1v3h-1zM483 458h1v3h-1zM483 464h1v3h-1zM483 470h1v3h-1zM483 476h1v3h-1zM483 482h1v3h-1zM483 488h1v3h-1zM483 494h1v3h-1zM483 500h1v3h-1zM483 506h1v3h-1zM483 512h1v3h-1zM483 518h1v3h-1zM483 524h1v3h-1zM483 530h1v3h-1zM515 350h1v3h-1zM515 356h1v3h-1zM515 362h1v3h-1zM515 368h1v3h-1zM515 374h1v3h-1zM515 380h1v3h-1zM515 386h1v3h-1zM515 392h1v3h-1zM515 398h1v3h-1zM515 404h1v3h-1zM515 410h1v3h-1zM515 416h1v3h-1zM515 422h1v3h-1zM515 428h1v3h-1zM515 434h1v3h-1zM515 440h1v3h-1zM515 446h1v3h-1zM515 452h1v3h-1zM515 458h1v3h-1zM515 464h1v3h-1zM515 470h1v3h-1zM515 476h1v3h-1zM515 482h1v3h-1zM515 488h1v3h-1zM515 494h1v3h-1zM515 500h1v3h-1zM515 506h1v3h-1zM515 512h1v3h-1zM515 518h1v3h-1zM515 524h1v3h-1zM515 530h1v3h-1zM547 350h1v3h-1zM547 356h1v3h-1zM547 362h1v3h-1zM547 368h1v3h-1zM547 374h1v3h-1zM547 380h1v3h-1zM547 386h1v3h-1zM547 392h1v3h-1zM547 398h1v3h-1zM547 404h1v3h-1zM547 410h1v3h-1zM547 416h1v3h-1zM547 422h1v3h-1zM547 428h1v3h-1zM547 434h1v3h-1zM547 440h1v3h-1zM547 446h1v3h-1zM547 452h1v3h-1zM547 458h1v3h-1zM547 464h1v3h-1zM547 470h1v3h-1zM547 476h1v3h-1zM547 482h1v3h-1zM547 488h1v3h-1zM547 494h1v3h-1zM547 500h1v3h-1zM547 506h1v3h-1zM547 512h1v3h-1zM547 518h1v3h-1zM547 524h1v3h-1zM547 530h1v3h-1zM579 350h1v3h-1zM579 356h1v3h-1zM579 362h1v3h-1zM579 368h1v3h-1zM579 374h1v3h-1zM579 380h1v3h-1zM579 386h1v3h-1zM579 392h1v3h-1zM579 398h1v3h-1zM579 404h1v3h-1zM579 410h1v3h-1zM579 416h1v3h-1zM579 422h1v3h-1zM579 428h1v3h-1zM579 434h1v3h-1zM579 440h1v3h-1zM579 446h1v3h-1zM579 452h1v3h-1zM579 458h1v3h-1zM579 464h1v3h-1zM579 470h1v3h-1zM579 476h1v3h-1zM579 482h1v3h-1zM579 488h1v3h-1zM579 494h1v3h-1zM579 500h1v3h-1zM579 506h1v3h-1zM579 512h1v3h-1zM579 518h1v3h-1zM579 524h1v3h-1zM579 530h1v3h-1zM611 350h1v3h-1zM611 356h1v3h-1zM611 362h1v3h-1zM611 368h1v3h-1zM611 374h1v3h-1zM611 380h1v3h-1zM611 386h1v3h-1zM611 392h1v3h-1zM611 398h1v3h-1zM611 404h1v3h-1zM611 410h1v3h-1zM611 416h1v3h-1zM611 422h1v3h-1zM611 428h1v3h-1zM611 434h1v3h-1zM611 440h1v3h-1zM611 446h1v3h-1zM611 452h1v3h-1zM611 458h1v3h-1zM611 464h1v3h-1zM611 470h1v3h-1zM611 476h1v3h-1zM611 482h1v3h-1zM611 488h1v3h-1zM611 494h1v3h-1zM611 500h1v3h-1zM611 506h1v3h-1zM611 512h1v3h-1zM611 518h1v3h-1zM611 524h1v3h-1zM611 530h1v3h-1zM643 350h1v3h-1zM643 356h1v3h-1zM643 362h1v3h-1zM643 368h1v3h-1zM643 374h1v3h-1zM643 380h1v3h-1zM643 386h1v3h-1zM643 392h1v3h-1zM643 398h1v3h-1zM643 404h1v3h-1zM643 410h1v3h-1zM643 416h1v3h-1zM643 422h1v3h-1zM643 428h1v3h-1zM643 434h1v3h-1zM643 440h1v3h-1zM643 446h1v3h-1zM643 452h1v3h-1zM643 458h1v3h-1zM643 464h1v3h-1zM643 470h1v3h-1zM643 476h1v3h-1zM643 482h1v3h-1zM643 488h1v3h-1zM643 494h1v3h-1zM643 500h1v3h-1zM643 506h1v3h-1zM643 512h1v3h-1zM643 518h1v3h-1zM643 524h1v3h-1zM643 530h1v3h-1zM35 537h1v2h-1zM35 542h1v3h-1zM35 548h1v3h-1zM35 554h1v3h-1zM35 560h1v3h-1zM35 566h1v3h-1zM35 572h1v3h-1zM35 578h1v3h-1zM35 584h1v3h-1zM35 590h1v3h-1zM35 596h1v3h-1zM35 602h1v3h-1zM35 608h1v3h-1zM35 614h1v3h-1zM35 620h1v3h-1zM35 626h1v3h-1zM35 632h1v3h-1zM35 638h1v3h-1zM35 644h1v3h-1zM35 650h1v3h-1zM35 656h1v3h-1zM35 662h1v3h-1zM35 668h1v3h-1zM35 674h1v3h-1zM35 680h1v3h-1zM35 686h1v3h-1zM35 692h1v3h-1zM35 698h1v3h-1zM35 704h1v3h-1zM35 710h1v1h-1zM67 537h1v2h-1zM67 542h1v3h-1zM67 548h1v3h-1zM67 554h1v3h-1zM67 560h1v3h-1zM67 566h1v3h-1zM67 572h1v3h-1zM67 578h1v3h-1zM67 584h1v3h-1zM67 590h1v3h-1zM67 596h1v3h-1zM67 602h1v3h-1zM67 608h1v3h-1zM67 614h1v3h-1zM67 620h1v3h-1zM67 626h1v3h-1zM67 632h1v3h-1zM67 638h1v3h-1zM67 644h1v3h-1zM67 650h1v3h-1zM67 656h1v3h-1zM67 662h1v3h-1zM67 668h1v3h-1zM67 674h1v3h-1zM67 680h1v3h-1zM67 686h1v3h-1zM67 692h1v3h-1zM67 698h1v3h-1zM67 704h1v3h-1zM67 710h1v1h-1zM99 537h1v2h-1zM99 542h1v3h-1zM99 548h1v3h-1zM99 554h1v3h-1zM99 560h1v3h-1zM99 566h1v3h-1zM99 572h1v3h-1zM99 578h1v3h-1zM99 584h1v3h-1zM99 590h1v3h-1zM99 596h1v3h-1zM99 602h1v3h-1zM99 608h1v3h-1zM99 614h1v3h-1zM99 620h1v3h-1zM99 626h1v3h-1zM99 632h1v3h-1zM99 638h1v3h-1zM99 644h1v3h-1zM99 650h1v3h-1zM99 656h1v3h-1zM99 662h1v3h-1zM99 668h1v3h-1zM99 674h1v3h-1zM99 680h1v3h-1zM99 686h1v3h-1zM99 692h1v3h-1zM99 698h1v3h-1zM99 704h1v3h-1zM99 710h1v1h-1zM131 537h1v2h-1zM131 542h1v3h-1zM131 548h1v3h-1zM131 554h1v3h-1zM131 560h1v3h-1zM131 566h1v3h-1zM131 572h1v3h-1zM131 578h1v3h-1zM131 584h1v3h-1zM131 590h1v3h-1zM131 596h1v3h-1zM131 602h1v3h-1zM131 608h1v3h-1zM131 614h1v3h-1zM131 620h1v3h-1zM131 626h1v3h-1zM131 632h1v3h-1zM131 638h1v3h-1zM131 644h1v3h-1zM131 650h1v3h-1zM131 656h1v3h-1zM131 662h1v3h-1zM131 668h1v3h-1zM131 674h1v3h-1zM131 680h1v3h-1zM131 686h1v3h-1zM131 692h1v3h-1zM131 698h1v3h-1zM131 704h1v3h-1zM131 710h1v1h-1zM163 537h1v2h-1zM163 542h1v3h-1zM163 548h1v3h-1zM163 554h1v3h-1zM163 560h1v3h-1zM163 566h1v3h-1zM163 572h1v3h-1zM163 578h1v3h-1zM163 584h1v3h-1zM163 590h1v3h-1zM163 596h1v3h-1zM163 602h1v3h-1zM163 608h1v3h-1zM163 614h1v3h-1zM163 620h1v3h-1zM163 626h1v3h-1zM163 632h1v3h-1zM163 638h1v3h-1zM163 644h1v3h-1zM163 650h1v3h-1zM163 656h1v3h-1zM163 662h1v3h-1zM163 668h1v3h-1zM163 674h1v3h-1zM163 680h1v3h-1zM163 686h1v3h-1zM163 692h1v3h-1zM163 698h1v3h-1zM163 704h1v3h-1zM163 710h1v1h-1zM195 537h1v2h-1zM195 542h1v3h-1zM195 548h1v3h-1zM195 554h1v3h-1zM195 560h1v3h-1zM195 566h1v3h-1zM195 572h1v3h-1zM195 578h1v3h-1zM195 584h1v3h-1zM195 590h1v3h-1zM195 596h1v3h-1zM195 602h1v3h-1zM195 608h1v3h-1zM195 614h1v3h-1zM195 620h1v3h-1zM195 626h1v3h-1zM195 632h1v3h-1zM195 638h1v3h-1zM195 644h1v3h-1zM195 650h1v3h-1zM195 656h1v3h-1zM195 662h1v3h-1zM195 668h1v3h-1zM195 674h1v3h-1zM195 680h1v3h-1zM195 686h1v3h-1zM195 692h1v3h-1zM195 698h1v3h-1zM195 704h1v3h-1zM195 710h1v1h-1zM227 537h1v2h-1zM227 542h1v3h-1zM227 548h1v3h-1zM227 554h1v3h-1zM227 560h1v3h-1zM227 566h1v3h-1zM227 572h1v3h-1zM227 578h1v3h-1zM227 584h1v3h-1zM227 590h1v3h-1zM227 596h1v3h-1zM227 602h1v3h-1zM227 608h1v3h-1zM227 614h1v3h-1zM227 620h1v3h-1zM227 626h1v3h-1zM227 632h1v3h-1zM227 638h1v3h-1zM227 644h1v3h-1zM227 650h1v3h-1zM227 656h1v3h-1zM227 662h1v3h-1zM227 668h1v3h-1zM227 674h1v3h-1zM227 680h1v3h-1zM227 686h1v3h-1zM227 692h1v3h-1zM227 698h1v3h-1zM227 704h1v3h-1zM227 710h1v1h-1zM259 537h1v2h-1zM259 542h1v3h-1zM259 548h1v3h-1zM259 554h1v3h-1zM259 560h1v3h-1zM259 566h1v3h-1zM259 572h1v3h-1zM259 578h1v3h-1zM259 584h1v3h-1zM259 590h1v3h-1zM259 596h1v3h-1zM259 602h1v3h-1zM259 608h1v3h-1zM259 614h1v3h-1zM259 620h1v3h-1zM259 626h1v3h-1zM259 632h1v3h-1zM259 638h1v3h-1zM259 644h1v3h-1zM259 650h1v3h-1zM259 656h1v3h-1zM259 662h1v3h-1zM259 668h1v3h-1zM259 674h1v3h-1zM259 680h1v3h-1zM259 686h1v3h-1zM259 692h1v3h-1zM259 698h1v3h-1zM259 704h1v3h-1zM259 710h1v1h-1zM291 537h1v2h-1zM291 542h1v3h-1zM291 548h1v3h-1zM291 554h1v3h-1zM291 560h1v3h-1zM291 566h1v3h-1zM291 572h1v3h-1zM291 578h1v3h-1zM291 584h1v3h-1zM291 590h1v3h-1zM291 596h1v3h-1zM291 602h1v3h-1zM291 608h1v3h-1zM291 614h1v3h-1zM291 620h1v3h-1zM291 626h1v3h-1zM291 632h1v3h-1zM291 638h1v3h-1zM291 644h1v3h-1zM291 650h1v3h-1zM291 656h1v3h-1zM291 662h1v3h-1zM291 668h1v3h-1zM291 674h1v3h-1zM291 680h1v3h-1zM291 686h1v3h-1zM291 692h1v3h-1zM291 698h1v3h-1zM291 704h1v3h-1zM291 710h1v1h-1zM323 537h1v2h-1zM323 542h1v3h-1zM323 548h1v3h-1zM323 554h1v3h-1zM323 560h1v3h-1zM323 566h1v3h-1zM323 572h1v3h-1zM323 578h1v3h-1zM323 584h1v3h-1zM323 590h1v3h-1zM323 596h1v3h-1zM323 602h1v3h-1zM323 608h1v3h-1zM323 614h1v3h-1zM323 620h1v3h-1zM323 626h1v3h-1zM323 632h1v3h-1zM323 638h1v3h-1zM323 644h1v3h-1zM323 650h1v3h-1zM323 656h1v3h-1zM323 662h1v3h-1zM323 668h1v3h-1zM323 674h1v3h-1zM323 680h1v3h-1zM323 686h1v3h-1zM323 692h1v3h-1zM323 698h1v3h-1zM323 704h1v3h-1zM323 710h1v1h-1zM355 537h1v2h-1zM355 542h1v3h-1zM355 548h1v3h-1zM355 554h1v3h-1zM355 560h1v3h-1zM355 566h1v3h-1zM355 572h1v3h-1zM355 578h1v3h-1zM355 584h1v3h-1zM355 590h1v3h-1zM355 596h1v3h-1zM355 602h1v3h-1zM355 608h1v3h-1zM355 614h1v3h-1zM355 620h1v3h-1zM355 626h1v3h-1zM355 632h1v3h-1zM355 638h1v3h-1zM355 644h1v3h-1zM355 650h1v3h-1zM355 656h1v3h-1zM355 662h1v3h-1zM355 668h1v3h-1zM355 674h1v3h-1zM355 680h1v3h-1zM355 686h1v3h-1zM355 692h1v3h-1zM355 698h1v3h-1zM355 704h1v3h-1zM355 710h1v1h-1zM387 537h1v2h-1zM387 542h1v3h-1zM387 548h1v3h-1zM387 554h1v3h-1zM387 560h1v3h-1zM387 566h1v3h-1zM387 572h1v3h-1zM387 578h1v3h-1zM387 584h1v3h-1zM387 590h1v3h-1zM387 596h1v3h-1zM387 602h1v3h-1zM387 608h1v3h-1zM387 614h1v3h-1zM387 620h1v3h-1zM387 626h1v3h-1zM387 632h1v3h-1zM387 638h1v3h-1zM387 644h1v3h-1zM387 650h1v3h-1zM387 656h1v3h-1zM387 662h1v3h-1zM387 668h1v3h-1zM387 674h1v3h-1zM387 680h1v3h-1zM387 686h1v3h-1zM387 692h1v3h-1zM387 698h1v3h-1zM387 704h1v3h-1zM387 710h1v1h-1zM419 537h1v2h-1zM419 542h1v3h-1zM419 548h1v3h-1zM419 554h1v3h-1zM419 560h1v3h-1zM419 566h1v3h-1zM419 572h1v3h-1zM419 578h1v3h-1zM419 584h1v3h-1zM419 590h1v3h-1zM419 596h1v3h-1zM419 602h1v3h-1zM419 608h1v3h-1zM419 614h1v3h-1zM419 620h1v3h-1zM419 626h1v3h-1zM419 632h1v3h-1zM419 638h1v3h-1zM419 644h1v3h-1zM419 650h1v3h-1zM419 656h1v3h-1zM419 662h1v3h-1zM419 668h1v3h-1zM419 674h1v3h-1zM419 680h1v3h-1zM419 686h1v3h-1zM419 692h1v3h-1zM419 698h1v3h-1zM419 704h1v3h-1zM419 710h1v1h-1zM451 537h1v2h-1zM451 542h1v3h-1zM451 548h1v3h-1zM451 554h1v3h-1zM451 560h1v3h-1zM451 566h1v3h-1zM451 572h1v3h-1zM451 578h1v3h-1zM451 584h1v3h-1zM451 590h1v3h-1zM451 596h1v3h-1zM451 602h1v3h-1zM451 608h1v3h-1zM451 614h1v3h-1zM451 620h1v3h-1zM451 626h1v3h-1zM451 632h1v3h-1zM451 638h1v3h-1zM451 644h1v3h-1zM451 650h1v3h-1zM451 656h1v3h-1zM451 662h1v3h-1zM451 668h1v3h-1zM451 674h1v3h-1zM451 680h1v3h-1zM451 686h1v3h-1zM451 692h1v3h-1zM451 698h1v3h-1zM451 704h1v3h-1zM451 710h1v1h-1zM483 537h1v2h-1zM483 542h1v3h-1zM483 548h1v3h-1zM483 554h1v3h-1zM483 560h1v3h-1zM483 566h1v3h-1zM483 572h1v3h-1zM483 578h1v3h-1zM483 584h1v3h-1zM483 590h1v3h-1zM483 596h1v3h-1zM483 602h1v3h-1zM483 608h1v3h-1zM483 614h1v3h-1zM483 620h1v3h-1zM483 626h1v3h-1zM483 632h1v3h-1zM483 638h1v3h-1zM483 644h1v3h-1zM483 650h1v3h-1zM483 656h1v3h-1zM483 662h1v3h-1zM483 668h1v3h-1zM483 674h1v3h-1zM483 680h1v3h-1zM483 686h1v3h-1zM483 692h1v3h-1zM483 698h1v3h-1zM483 704h1v3h-1zM483 710h1v1h-1zM515 537h1v2h-1zM515 542h1v3h-1zM515 548h1v3h-1zM515 554h1v3h-1zM515 560h1v3h-1zM515 566h1v3h-1zM515 572h1v3h-1zM515 578h1v3h-1zM515 584h1v3h-1zM515 590h1v3h-1zM515 596h1v3h-1zM515 602h1v3h-1zM515 608h1v3h-1zM515 614h1v3h-1zM515 620h1v3h-1zM515 626h1v3h-1zM515 632h1v3h-1zM515 638h1v3h-1zM515 644h1v3h-1zM515 650h1v3h-1zM515 656h1v3h-1zM515 662h1v3h-1zM515 668h1v3h-1zM515 674h1v3h-1zM515 680h1v3h-1zM515 686h1v3h-1zM515 692h1v3h-1zM515 698h1v3h-1zM515 704h1v3h-1zM515 710h1v1h-1zM547 537h1v2h-1zM547 542h1v3h-1zM547 548h1v3h-1zM547 554h1v3h-1zM547 560h1v3h-1zM547 566h1v3h-1zM547 572h1v3h-1zM547 578h1v3h-1zM547 584h1v3h-1zM547 590h1v3h-1zM547 596h1v3h-1zM547 602h1v3h-1zM547 608h1v3h-1zM547 614h1v3h-1zM547 620h1v3h-1zM547 626h1v3h-1zM547 632h1v3h-1zM547 638h1v3h-1zM547 644h1v3h-1zM547 650h1v3h-1zM547 656h1v3h-1zM547 662h1v3h-1zM547 668h1v3h-1zM547 674h1v3h-1zM547 680h1v3h-1zM547 686h1v3h-1zM547 692h1v3h-1zM547 698h1v3h-1zM547 704h1v3h-1zM547 710h1v1h-1zM579 537h1v2h-1zM579 542h1v3h-1zM579 548h1v3h-1zM579 554h1v3h-1zM579 560h1v3h-1zM579 566h1v3h-1zM579 572h1v3h-1zM579 578h1v3h-1zM579 584h1v3h-1zM579 590h1v3h-1zM579 596h1v3h-1zM579 602h1v3h-1zM579 608h1v3h-1zM579 614h1v3h-1zM579 620h1v3h-1zM579 626h1v3h-1zM579 632h1v3h-1zM579 638h1v3h-1zM579 644h1v3h-1zM579 650h1v3h-1zM579 656h1v3h-1zM579 662h1v3h-1zM579 668h1v3h-1zM579 674h1v3h-1zM579 680h1v3h-1zM579 686h1v3h-1zM579 692h1v3h-1zM579 698h1v3h-1zM579 704h1v3h-1zM579 710h1v1h-1zM611 537h1v2h-1zM611 542h1v3h-1zM611 548h1v3h-1zM611 554h1v3h-1zM611 560h1v3h-1zM611 566h1v3h-1zM611 572h1v3h-1zM611 578h1v3h-1zM611 584h1v3h-1zM611 590h1v3h-1zM611 596h1v3h-1zM611 602h1v3h-1zM611 608h1v3h-1zM611 614h1v3h-1zM611 620h1v3h-1zM611 626h1v3h-1zM611 632h1v3h-1zM611 638h1v3h-1zM611 644h1v3h-1zM611 650h1v3h-1zM611 656h1v3h-1zM611 662h1v3h-1zM611 668h1v3h-1zM611 674h1v3h-1zM611 680h1v3h-1zM611 686h1v3h-1zM611 692h1v3h-1zM611 698h1v3h-1zM611 704h1v3h-1zM611 710h1v1h-1zM643 537h1v2h-1zM643 542h1v3h-1zM643 548h1v3h-1zM643 554h1v3h-1zM643 560h1v3h-1zM643 566h1v3h-1zM643 572h1v3h-1zM643 578h1v3h-1zM643 584h1v3h-1zM643 590h1v3h-1zM643 596h1v3h-1zM643 602h1v3h-1zM643 608h1v3h-1zM643 614h1v3h-1zM643 620h1v3h-1zM643 626h1v3h-1zM643 632h1v3h-1zM643 638h1v3h-1zM643 644h1v3h-1zM643 650h1v3h-1zM643 656h1v3h-1zM643 662h1v3h-1zM643 668h1v3h-1zM643 674h1v3h-1zM643 680h1v3h-1zM643 686h1v3h-1zM643 692h1v3h-1zM643 698h1v3h-1zM643 704h1v3h-1zM643 710h1v1h-1zM4 12h3v1h-3zM10 12h3v1h-3zM16 12h3v1h-3zM22 12h3v1h-3zM28 12h3v1h-3zM34 12h3v1h-3zM40 12h3v1h-3zM46 12h3v1h-3zM52 12h3v1h-3zM58 12h3v1h-3zM64 12h3v1h-3zM70 12h3v1h-3zM76 12h3v1h-3zM82 12h3v1h-3zM88 12h3v1h-3zM94 12h3v1h-3zM100 12h3v1h-3zM106 12h3v1h-3zM112 12h3v1h-3zM118 12h3v1h-3zM124 12h3v1h-3zM130 12h3v1h-3zM136 12h3v1h-3zM142 12h3v1h-3zM148 12h3v1h-3zM154 12h3v1h-3zM160 12h3v1h-3zM166 12h3v1h-3zM172 12h3v1h-3zM178 12h3v1h-3zM184 12h3v1h-3zM190 12h3v1h-3zM196 12h3v1h-3zM202 12h3v1h-3zM208 12h3v1h-3zM214 12h3v1h-3zM220 12h3v1h-3zM226 12h3v1h-3zM232 12h3v1h-3zM238 12h3v1h-3zM244 12h3v1h-3zM250 12h3v1h-3zM256 12h3v1h-3zM262 12h3v1h-3zM268 12h3v1h-3zM274 12h3v1h-3zM280 12h3v1h-3zM286 12h3v1h-3zM292 12h3v1h-3zM298 12h3v1h-3zM304 12h3v1h-3zM310 12h3v1h-3zM316 12h3v1h-3zM322 12h3v1h-3zM328 12h3v1h-3zM334 12h3v1h-3zM340 12h3v1h-3zM346 12h3v1h-3zM352 12h3v1h-3zM358 12h3v1h-3zM364 12h3v1h-3zM370 12h3v1h-3zM376 12h3v1h-3zM382 12h3v1h-3zM388 12h3v1h-3zM394 12h3v1h-3zM400 12h3v1h-3zM406 12h3v1h-3zM412 12h3v1h-3zM418 12h3v1h-3zM424 12h3v1h-3zM430 12h3v1h-3zM436 12h3v1h-3zM442 12h3v1h-3zM448 12h3v1h-3zM454 12h3v1h-3zM460 12h3v1h-3zM466 12h3v1h-3zM472 12h3v1h-3zM478 12h3v1h-3zM484 12h3v1h-3zM490 12h3v1h-3zM496 12h3v1h-3zM502 12h3v1h-3zM508 12h3v1h-3zM514 12h3v1h-3zM520 12h3v1h-3zM526 12h3v1h-3zM532 12h3v1h-3zM538 12h3v1h-3zM544 12h3v1h-3zM550 12h3v1h-3zM556 12h3v1h-3zM562 12h3v1h-3zM568 12h3v1h-3zM574 12h3v1h-3zM580 12h3v1h-3zM586 12h3v1h-3zM592 12h3v1h-3zM598 12h3v1h-3zM604 12h3v1h-3zM610 12h3v1h-3zM616 12h3v1h-3zM622 12h3v1h-3zM628 12h3v1h-3zM634 12h3v1h-3zM640 12h3v1h-3zM646 12h3v1h-3zM652 12h3v1h-3zM658 12h3v1h-3zM664 12h3v1h-3zM670 12h3v1h-3zM4 45h3v1h-3zM10 45h3v1h-3zM16 45h3v1h-3zM22 45h3v1h-3zM28 45h3v1h-3zM34 45h3v1h-3zM40 45h3v1h-3zM46 45h3v1h-3zM52 45h3v1h-3zM58 45h3v1h-3zM64 45h3v1h-3zM70 45h3v1h-3zM76 45h3v1h-3zM82 45h3v1h-3zM88 45h3v1h-3zM94 45h3v1h-3zM100 45h3v1h-3zM106 45h3v1h-3zM112 45h3v1h-3zM118 45h3v1h-3zM124 45h3v1h-3zM130 45h3v1h-3zM136 45h3v1h-3zM142 45h3v1h-3zM148 45h3v1h-3zM154 45h3v1h-3zM160 45h3v1h-3zM166 45h3v1h-3zM172 45h3v1h-3zM178 45h3v1h-3zM184 45h3v1h-3zM190 45h3v1h-3zM196 45h3v1h-3zM202 45h3v1h-3zM208 45h3v1h-3zM214 45h3v1h-3zM220 45h3v1h-3zM226 45h3v1h-3zM232 45h3v1h-3zM238 45h3v1h-3zM244 45h3v1h-3zM250 45h3v1h-3zM256 45h3v1h-3zM262 45h3v1h-3zM268 45h3v1h-3zM274 45h3v1h-3zM280 45h3v1h-3zM286 45h3v1h-3zM292 45h3v1h-3zM298 45h3v1h-3zM304 45h3v1h-3zM310 45h3v1h-3zM316 45h3v1h-3zM322 45h3v1h-3zM328 45h3v1h-3zM334 45h3v1h-3zM340 45h3v1h-3zM346 45h3v1h-3zM352 45h3v1h-3zM358 45h3v1h-3zM364 45h3v1h-3zM370 45h3v1h-3zM376 45h3v1h-3zM382 45h3v1h-3zM388 45h3v1h-3zM394 45h3v1h-3zM400 45h3v1h-3zM406 45h3v1h-3zM412 45h3v1h-3zM418 45h3v1h-3zM424 45h3v1h-3zM430 45h3v1h-3zM436 45h3v1h-3zM442 45h3v1h-3zM448 45h3v1h-3zM454 45h3v1h-3zM460 45h3v1h-3zM466 45h3v1h-3zM472 45h3v1h-3zM478 45h3v1h-3zM484 45h3v1h-3zM490 45h3v1h-3zM496 45h3v1h-3zM502 45h3v1h-3zM508 45h3v1h-3zM514 45h3v1h-3zM520 45h3v1h-3zM526 45h3v1h-3zM532 45h3v1h-3zM538 45h3v1h-3zM544 45h3v1h-3zM550 45h3v1h-3zM556 45h3v1h-3zM562 45h3v1h-3zM568 45h3v1h-3zM574 45h3v1h-3zM580 45h3v1h-3zM586 45h3v1h-3zM592 45h3v1h-3zM598 45h3v1h-3zM604 45h3v1h-3zM610 45h3v1h-3zM616 45h3v1h-3zM622 45h3v1h-3zM628 45h3v1h-3zM634 45h3v1h-3zM640 45h3v1h-3zM646 45h3v1h-3zM652 45h3v1h-3zM658 45h3v1h-3zM664 45h3v1h-3zM670 45h3v1h-3zM4 78h3v1h-3zM10 78h3v1h-3zM16 78h3v1h-3zM22 78h3v1h-3zM28 78h3v1h-3zM34 78h3v1h-3zM40 78h3v1h-3zM46 78h3v1h-3zM52 78h3v1h-3zM58 78h3v1h-3zM64 78h3v1h-3zM70 78h3v1h-3zM76 78h3v1h-3zM82 78h3v1h-3zM88 78h3v1h-3zM94 78h3v1h-3zM100 78h3v1h-3zM106 78h3v1h-3zM112 78h3v1h-3zM118 78h3v1h-3zM124 78h3v1h-3zM130 78h3v1h-3zM136 78h3v1h-3zM142 78h3v1h-3zM148 78h3v1h-3zM154 78h3v1h-3zM160 78h3v1h-3zM166 78h3v1h-3zM172 78h3v1h-3zM178 78h3v1h-3zM184 78h3v1h-3zM190 78h3v1h-3zM196 78h3v1h-3zM202 78h3v1h-3zM208 78h3v1h-3zM214 78h3v1h-3zM220 78h3v1h-3zM226 78h3v1h-3zM232 78h3v1h-3zM238 78h3v1h-3zM244 78h3v1h-3zM250 78h3v1h-3zM256 78h3v1h-3zM262 78h3v1h-3zM268 78h3v1h-3zM274 78h3v1h-3zM280 78h3v1h-3zM286 78h3v1h-3zM292 78h3v1h-3zM298 78h3v1h-3zM304 78h3v1h-3zM310 78h3v1h-3zM316 78h3v1h-3zM322 78h3v1h-3zM328 78h3v1h-3zM334 78h3v1h-3zM340 78h3v1h-3zM346 78h3v1h-3zM352 78h3v1h-3zM358 78h3v1h-3zM364 78h3v1h-3zM370 78h3v1h-3zM376 78h3v1h-3zM382 78h3v1h-3zM388 78h3v1h-3zM394 78h3v1h-3zM400 78h3v1h-3zM406 78h3v1h-3zM412 78h3v1h-3zM418 78h3v1h-3zM424 78h3v1h-3zM430 78h3v1h-3zM436 78h3v1h-3zM442 78h3v1h-3zM448 78h3v1h-3zM454 78h3v1h-3zM460 78h3v1h-3zM466 78h3v1h-3zM472 78h3v1h-3zM478 78h3v1h-3zM484 78h3v1h-3zM490 78h3v1h-3zM496 78h3v1h-3zM502 78h3v1h-3zM508 78h3v1h-3zM514 78h3v1h-3zM520 78h3v1h-3zM526 78h3v1h-3zM532 78h3v1h-3zM538 78h3v1h-3zM544 78h3v1h-3zM550 78h3v1h-3zM556 78h3v1h-3zM562 78h3v1h-3zM568 78h3v1h-3zM574 78h3v1h-3zM580 78h3v1h-3zM586 78h3v1h-3zM592 78h3v1h-3zM598 78h3v1h-3zM604 78h3v1h-3zM610 78h3v1h-3zM616 78h3v1h-3zM622 78h3v1h-3zM628 78h3v1h-3zM634 78h3v1h-3zM640 78h3v1h-3zM646 78h3v1h-3zM652 78h3v1h-3zM658 78h3v1h-3zM664 78h3v1h-3zM670 78h3v1h-3zM4 111h3v1h-3zM10 111h3v1h-3zM16 111h3v1h-3zM22 111h3v1h-3zM28 111h3v1h-3zM34 111h3v1h-3zM40 111h3v1h-3zM46 111h3v1h-3zM52 111h3v1h-3zM58 111h3v1h-3zM64 111h3v1h-3zM70 111h3v1h-3zM76 111h3v1h-3zM82 111h3v1h-3zM88 111h3v1h-3zM94 111h3v1h-3zM100 111h3v1h-3zM106 111h3v1h-3zM112 111h3v1h-3zM118 111h3v1h-3zM124 111h3v1h-3zM130 111h3v1h-3zM136 111h3v1h-3zM142 111h3v1h-3zM148 111h3v1h-3zM154 111h3v1h-3zM160 111h3v1h-3zM166 111h3v1h-3zM172 111h3v1h-3zM178 111h3v1h-3zM184 111h3v1h-3zM190 111h3v1h-3zM196 111h3v1h-3zM202 111h3v1h-3zM208 111h3v1h-3zM214 111h3v1h-3zM220 111h3v1h-3zM226 111h3v1h-3zM232 111h3v1h-3zM238 111h3v1h-3zM244 111h3v1h-3zM250 111h3v1h-3zM256 111h3v1h-3zM262 111h3v1h-3zM268 111h3v1h-3zM274 111h3v1h-3zM280 111h3v1h-3zM286 111h3v1h-3zM292 111h3v1h-3zM298 111h3v1h-3zM304 111h3v1h-3zM310 111h3v1h-3zM316 111h3v1h-3zM322 111h3v1h-3zM328 111h3v1h-3zM334 111h3v1h-3zM340 111h3v1h-3zM346 111h3v1h-3zM352 111h3v1h-3zM358 111h3v1h-3zM364 111h3v1h-3zM370 111h3v1h-3zM376 111h3v1h-3zM382 111h3v1h-3zM388 111h3v1h-3zM394 111h3v1h-3zM400 111h3v1h-3zM406 111h3v1h-3zM412 111h3v1h-3zM418 111h3v1h-3zM424 111h3v1h-3zM430 111h3v1h-3zM436 111h3v1h-3zM442 111h3v1h-3zM448 111h3v1h-3zM454 111h3v1h-3zM460 111h3v1h-3zM466 111h3v1h-3zM472 111h3v1h-3zM478 111h3v1h-3zM484 111h3v1h-3zM490 111h3v1h-3zM496 111h3v1h-3zM502 111h3v1h-3zM508 111h3v1h-3zM514 111h3v1h-3zM520 111h3v1h-3zM526 111h3v1h-3zM532 111h3v1h-3zM538 111h3v1h-3zM544 111h3v1h-3zM550 111h3v1h-3zM556 111h3v1h-3zM562 111h3v1h-3zM568 111h3v1h-3zM574 111h3v1h-3zM580 111h3v1h-3zM586 111h3v1h-3zM592 111h3v1h-3zM598 111h3v1h-3zM604 111h3v1h-3zM610 111h3v1h-3zM616 111h3v1h-3zM622 111h3v1h-3zM628 111h3v1h-3zM634 111h3v1h-3zM640 111h3v1h-3zM646 111h3v1h-3zM652 111h3v1h-3zM658 111h3v1h-3zM664 111h3v1h-3zM670 111h3v1h-3zM4 144h3v1h-3zM10 144h3v1h-3zM16 144h3v1h-3zM22 144h3v1h-3zM28 144h3v1h-3zM34 144h3v1h-3zM40 144h3v1h-3zM46 144h3v1h-3zM52 144h3v1h-3zM58 144h3v1h-3zM64 144h3v1h-3zM70 144h3v1h-3zM76 144h3v1h-3zM82 144h3v1h-3zM88 144h3v1h-3zM94 144h3v1h-3zM100 144h3v1h-3zM106 144h3v1h-3zM112 144h3v1h-3zM118 144h3v1h-3zM124 144h3v1h-3zM130 144h3v1h-3zM136 144h3v1h-3zM142 144h3v1h-3zM148 144h3v1h-3zM154 144h3v1h-3zM160 144h3v1h-3zM166 144h3v1h-3zM172 144h3v1h-3zM178 144h3v1h-3zM184 144h3v1h-3zM190 144h3v1h-3zM196 144h3v1h-3zM202 144h3v1h-3zM208 144h3v1h-3zM214 144h3v1h-3zM220 144h3v1h-3zM226 144h3v1h-3zM232 144h3v1h-3zM238 144h3v1h-3zM244 144h3v1h-3zM250 144h3v1h-3zM256 144h3v1h-3zM262 144h3v1h-3zM268 144h3v1h-3zM274 144h3v1h-3zM280 144h3v1h-3zM286 144h3v1h-3zM292 144h3v1h-3zM298 144h3v1h-3zM304 144h3v1h-3zM310 144h3v1h-3zM316 144h3v1h-3zM322 144h3v1h-3zM328 144h3v1h-3zM334 144h3v1h-3zM340 144h3v1h-3zM346 144h3v1h-3zM352 144h3v1h-3zM358 144h3v1h-3zM364 144h3v1h-3zM370 144h3v1h-3zM376 144h3v1h-3zM382 144h3v1h-3zM388 144h3v1h-3zM394 144h3v1h-3zM400 144h3v1h-3zM406 144h3v1h-3zM412 144h3v1h-3zM418 144h3v1h-3zM424 144h3v1h-3zM430 144h3v1h-3zM436 144h3v1h-3zM442 144h3v1h-3zM448 144h3v1h-3zM454 144h3v1h-3zM460 144h3v1h-3zM466 144h3v1h-3zM472 144h3v1h-3zM478 144h3v1h-3zM484 144h3v1h-3zM490 144h3v1h-3zM496 144h3v1h-3zM502 144h3v1h-3zM508 144h3v1h-3zM514 144h3v1h-3zM520 144h3v1h-3zM526 144h3v1h-3zM532 144h3v1h-3zM538 144h3v1h-3zM544 144h3v1h-3zM550 144h3v1h-3zM556 144h3v1h-3zM562 144h3v1h-3zM568 144h3v1h-3zM574 144h3v1h-3zM580 144h3v1h-3zM586 144h3v1h-3zM592 144h3v1h-3zM598 144h3v1h-3zM604 144h3v1h-3zM610 144h3v1h-3zM616 144h3v1h-3zM622 144h3v1h-3zM628 144h3v1h-3zM634 144h3v1h-3zM640 144h3v1h-3zM646 144h3v1h-3zM652 144h3v1h-3zM658 144h3v1h-3zM664 144h3v1h-3zM670 144h3v1h-3zM4 177h3v1h-3zM10 177h3v1h-3zM16 177h3v1h-3zM22 177h3v1h-3zM28 177h3v1h-3zM34 177h3v1h-3zM40 177h3v1h-3zM46 177h3v1h-3zM52 177h3v1h-3zM58 177h3v1h-3zM64 177h3v1h-3zM70 177h3v1h-3zM76 177h3v1h-3zM82 177h3v1h-3zM88 177h3v1h-3zM94 177h3v1h-3zM100 177h3v1h-3zM106 177h3v1h-3zM112 177h3v1h-3zM118 177h3v1h-3zM124 177h3v1h-3zM130 177h3v1h-3zM136 177h3v1h-3zM142 177h3v1h-3zM148 177h3v1h-3zM154 177h3v1h-3zM160 177h3v1h-3zM166 177h3v1h-3zM172 177h3v1h-3zM178 177h3v1h-3zM184 177h3v1h-3zM190 177h3v1h-3zM196 177h3v1h-3zM202 177h3v1h-3zM208 177h3v1h-3zM214 177h3v1h-3zM220 177h3v1h-3zM226 177h3v1h-3zM232 177h3v1h-3zM238 177h3v1h-3zM244 177h3v1h-3zM250 177h3v1h-3zM256 177h3v1h-3zM262 177h3v1h-3zM268 177h3v1h-3zM274 177h3v1h-3zM280 177h3v1h-3zM286 177h3v1h-3zM292 177h3v1h-3zM298 177h3v1h-3zM304 177h3v1h-3zM310 177h3v1h-3zM316 177h3v1h-3zM322 177h3v1h-3zM328 177h3v1h-3zM334 177h3v1h-3zM340 177h3v1h-3zM346 177h3v1h-3zM352 177h3v1h-3zM358 177h3v1h-3zM364 177h3v1h-3zM370 177h3v1h-3zM376 177h3v1h-3zM382 177h3v1h-3zM388 177h3v1h-3zM394 177h3v1h-3zM400 177h3v1h-3zM406 177h3v1h-3zM412 177h3v1h-3zM418 177h3v1h-3zM424 177h3v1h-3zM430 177h3v1h-3zM436 177h3v1h-3zM442 177h3v1h-3zM448 177h3v1h-3zM454 177h3v1h-3zM460 177h3v1h-3zM466 177h3v1h-3zM472 177h3v1h-3zM478 177h3v1h-3zM484 177h3v1h-3zM490 177h3v1h-3zM496 177h3v1h-3zM502 177h3v1h-3zM508 177h3v1h-3zM514 177h3v1h-3zM520 177h3v1h-3zM526 177h3v1h-3zM532 177h3v1h-3zM538 177h3v1h-3zM544 177h3v1h-3zM550 177h3v1h-3zM556 177h3v1h-3zM562 177h3v1h-3zM568 177h3v1h-3zM574 177h3v1h-3zM580 177h3v1h-3zM586 177h3v1h-3zM592 177h3v1h-3zM598 177h3v1h-3zM604 177h3v1h-3zM610 177h3v1h-3zM616 177h3v1h-3zM622 177h3v1h-3zM628 177h3v1h-3zM634 177h3v1h-3zM640 177h3v1h-3zM646 177h3v1h-3zM652 177h3v1h-3zM658 177h3v1h-3zM664 177h3v1h-3zM670 177h3v1h-3zM4 210h3v1h-3zM10 210h3v1h-3zM16 210h3v1h-3zM22 210h3v1h-3zM28 210h3v1h-3zM34 210h3v1h-3zM40 210h3v1h-3zM46 210h3v1h-3zM52 210h3v1h-3zM58 210h3v1h-3zM64 210h3v1h-3zM70 210h3v1h-3zM76 210h3v1h-3zM82 210h3v1h-3zM88 210h3v1h-3zM94 210h3v1h-3zM100 210h3v1h-3zM106 210h3v1h-3zM112 210h3v1h-3zM118 210h3v1h-3zM124 210h3v1h-3zM130 210h3v1h-3zM136 210h3v1h-3zM142 210h3v1h-3zM148 210h3v1h-3zM154 210h3v1h-3zM160 210h3v1h-3zM166 210h3v1h-3zM172 210h3v1h-3zM178 210h3v1h-3zM184 210h3v1h-3zM190 210h3v1h-3zM196 210h3v1h-3zM202 210h3v1h-3zM208 210h3v1h-3zM214 210h3v1h-3zM220 210h3v1h-3zM226 210h3v1h-3zM232 210h3v1h-3zM238 210h3v1h-3zM244 210h3v1h-3zM250 210h3v1h-3zM256 210h3v1h-3zM262 210h3v1h-3zM268 210h3v1h-3zM274 210h3v1h-3zM280 210h3v1h-3zM286 210h3v1h-3zM292 210h3v1h-3zM298 210h3v1h-3zM304 210h3v1h-3zM310 210h3v1h-3zM316 210h3v1h-3zM322 210h3v1h-3zM328 210h3v1h-3zM334 210h3v1h-3zM340 210h3v1h-3zM346 210h3v1h-3zM352 210h3v1h-3zM358 210h3v1h-3zM364 210h3v1h-3zM370 210h3v1h-3zM376 210h3v1h-3zM382 210h3v1h-3zM388 210h3v1h-3zM394 210h3v1h-3zM400 210h3v1h-3zM406 210h3v1h-3zM412 210h3v1h-3zM418 210h3v1h-3zM424 210h3v1h-3zM430 210h3v1h-3zM436 210h3v1h-3zM442 210h3v1h-3zM448 210h3v1h-3zM454 210h3v1h-3zM460 210h3v1h-3zM466 210h3v1h-3zM472 210h3v1h-3zM478 210h3v1h-3zM484 210h3v1h-3zM490 210h3v1h-3zM496 210h3v1h-3zM502 210h3v1h-3zM508 210h3v1h-3zM514 210h3v1h-3zM520 210h3v1h-3zM526 210h3v1h-3zM532 210h3v1h-3zM538 210h3v1h-3zM544 210h3v1h-3zM550 210h3v1h-3zM556 210h3v1h-3zM562 210h3v1h-3zM568 210h3v1h-3zM574 210h3v1h-3zM580 210h3v1h-3zM586 210h3v1h-3zM592 210h3v1h-3zM598 210h3v1h-3zM604 210h3v1h-3zM610 210h3v1h-3zM616 210h3v1h-3zM622 210h3v1h-3zM628 210h3v1h-3zM634 210h3v1h-3zM640 210h3v1h-3zM646 210h3v1h-3zM652 210h3v1h-3zM658 210h3v1h-3zM664 210h3v1h-3zM670 210h3v1h-3zM4 243h3v1h-3zM10 243h3v1h-3zM16 243h3v1h-3zM22 243h3v1h-3zM28 243h3v1h-3zM34 243h3v1h-3zM40 243h3v1h-3zM46 243h3v1h-3zM52 243h3v1h-3zM58 243h3v1h-3zM64 243h3v1h-3zM70 243h3v1h-3zM76 243h3v1h-3zM82 243h3v1h-3zM88 243h3v1h-3zM94 243h3v1h-3zM100 243h3v1h-3zM106 243h3v1h-3zM112 243h3v1h-3zM118 243h3v1h-3zM124 243h3v1h-3zM130 243h3v1h-3zM136 243h3v1h-3zM142 243h3v1h-3zM148 243h3v1h-3zM154 243h3v1h-3zM160 243h3v1h-3zM166 243h3v1h-3zM172 243h3v1h-3zM178 243h3v1h-3zM184 243h3v1h-3zM190 243h3v1h-3zM196 243h3v1h-3zM202 243h3v1h-3zM208 243h3v1h-3zM214 243h3v1h-3zM220 243h3v1h-3zM226 243h3v1h-3zM232 243h3v1h-3zM238 243h3v1h-3zM244 243h3v1h-3zM250 243h3v1h-3zM256 243h3v1h-3zM262 243h3v1h-3zM268 243h3v1h-3zM274 243h3v1h-3zM280 243h3v1h-3zM286 243h3v1h-3zM292 243h3v1h-3zM298 243h3v1h-3zM304 243h3v1h-3zM310 243h3v1h-3zM316 243h3v1h-3zM322 243h3v1h-3zM328 243h3v1h-3zM334 243h3v1h-3zM340 243h3v1h-3zM346 243h3v1h-3zM352 243h3v1h-3zM358 243h3v1h-3zM364 243h3v1h-3zM370 243h3v1h-3zM376 243h3v1h-3zM382 243h3v1h-3zM388 243h3v1h-3zM394 243h3v1h-3zM400 243h3v1h-3zM406 243h3v1h-3zM412 243h3v1h-3zM418 243h3v1h-3zM424 243h3v1h-3zM430 243h3v1h-3zM436 243h3v1h-3zM442 243h3v1h-3zM448 243h3v1h-3zM454 243h3v1h-3zM460 243h3v1h-3zM466 243h3v1h-3zM472 243h3v1h-3zM478 243h3v1h-3zM484 243h3v1h-3zM490 243h3v1h-3zM496 243h3v1h-3zM502 243h3v1h-3zM508 243h3v1h-3zM514 243h3v1h-3zM520 243h3v1h-3zM526 243h3v1h-3zM532 243h3v1h-3zM538 243h3v1h-3zM544 243h3v1h-3zM550 243h3v1h-3zM556 243h3v1h-3zM562 243h3v1h-3zM568 243h3v1h-3zM574 243h3v1h-3zM580 243h3v1h-3zM586 243h3v1h-3zM592 243h3v1h-3zM598 243h3v1h-3zM604 243h3v1h-3zM610 243h3v1h-3zM616 243h3v1h-3zM622 243h3v1h-3zM628 243h3v1h-3zM634 243h3v1h-3zM640 243h3v1h-3zM646 243h3v1h-3zM652 243h3v1h-3zM658 243h3v1h-3zM664 243h3v1h-3zM670 243h3v1h-3zM4 276h3v1h-3zM10 276h3v1h-3zM16 276h3v1h-3zM22 276h3v1h-3zM28 276h3v1h-3zM34 276h3v1h-3zM40 276h3v1h-3zM46 276h3v1h-3zM52 276h3v1h-3zM58 276h3v1h-3zM64 276h3v1h-3zM70 276h3v1h-3zM76 276h3v1h-3zM82 276h3v1h-3zM88 276h3v1h-3zM94 276h3v1h-3zM100 276h3v1h-3zM106 276h3v1h-3zM112 276h3v1h-3zM118 276h3v1h-3zM124 276h3v1h-3zM130 276h3v1h-3zM136 276h3v1h-3zM142 276h3v1h-3zM148 276h3v1h-3zM154 276h3v1h-3zM160 276h3v1h-3zM166 276h3v1h-3zM172 276h3v1h-3zM178 276h3v1h-3zM184 276h3v1h-3zM190 276h3v1h-3zM196 276h3v1h-3zM202 276h3v1h-3zM208 276h3v1h-3zM214 276h3v1h-3zM220 276h3v1h-3zM226 276h3v1h-3zM232 276h3v1h-3zM238 276h3v1h-3zM244 276h3v1h-3zM250 276h3v1h-3zM256 276h3v1h-3zM262 276h3v1h-3zM268 276h3v1h-3zM274 276h3v1h-3zM280 276h3v1h-3zM286 276h3v1h-3zM292 276h3v1h-3zM298 276h3v1h-3zM304 276h3v1h-3zM310 276h3v1h-3zM316 276h3v1h-3zM322 276h3v1h-3zM328 276h3v1h-3zM334 276h3v1h-3zM340 276h3v1h-3zM346 276h3v1h-3zM352 276h3v1h-3zM358 276h3v1h-3zM364 276h3v1h-3zM370 276h3v1h-3zM376 276h3v1h-3zM382 276h3v1h-3zM388 276h3v1h-3zM394 276h3v1h-3zM400 276h3v1h-3zM406 276h3v1h-3zM412 276h3v1h-3zM418 276h3v1h-3zM424 276h3v1h-3zM430 276h3v1h-3zM436 276h3v1h-3zM442 276h3v1h-3zM448 276h3v1h-3zM454 276h3v1h-3zM460 276h3v1h-3zM466 276h3v1h-3zM472 276h3v1h-3zM478 276h3v1h-3zM484 276h3v1h-3zM490 276h3v1h-3zM496 276h3v1h-3zM502 276h3v1h-3zM508 276h3v1h-3zM514 276h3v1h-3zM520 276h3v1h-3zM526 276h3v1h-3zM532 276h3v1h-3zM538 276h3v1h-3zM544 276h3v1h-3zM550 276h3v1h-3zM556 276h3v1h-3zM562 276h3v1h-3zM568 276h3v1h-3zM574 276h3v1h-3zM580 276h3v1h-3zM586 276h3v1h-3zM592 276h3v1h-3zM598 276h3v1h-3zM604 276h3v1h-3zM610 276h3v1h-3zM616 276h3v1h-3zM622 276h3v1h-3zM628 276h3v1h-3zM634 276h3v1h-3zM640 276h3v1h-3zM646 276h3v1h-3zM652 276h3v1h-3zM658 276h3v1h-3zM664 276h3v1h-3zM670 276h3v1h-3zM4 309h3v1h-3zM10 309h3v1h-3zM16 309h3v1h-3zM22 309h3v1h-3zM28 309h3v1h-3zM34 309h3v1h-3zM40 309h3v1h-3zM46 309h3v1h-3zM52 309h3v1h-3zM58 309h3v1h-3zM64 309h3v1h-3zM70 309h3v1h-3zM76 309h3v1h-3zM82 309h3v1h-3zM88 309h3v1h-3zM94 309h3v1h-3zM100 309h3v1h-3zM106 309h3v1h-3zM112 309h3v1h-3zM118 309h3v1h-3zM124 309h3v1h-3zM130 309h3v1h-3zM136 309h3v1h-3zM142 309h3v1h-3zM148 309h3v1h-3zM154 309h3v1h-3zM160 309h3v1h-3zM166 309h3v1h-3zM172 309h3v1h-3zM178 309h3v1h-3zM184 309h3v1h-3zM190 309h3v1h-3zM196 309h3v1h-3zM202 309h3v1h-3zM208 309h3v1h-3zM214 309h3v1h-3zM220 309h3v1h-3zM226 309h3v1h-3zM232 309h3v1h-3zM238 309h3v1h-3zM244 309h3v1h-3zM250 309h3v1h-3zM256 309h3v1h-3zM262 309h3v1h-3zM268 309h3v1h-3zM274 309h3v1h-3zM280 309h3v1h-3zM286 309h3v1h-3zM292 309h3v1h-3zM298 309h3v1h-3zM304 309h3v1h-3zM310 309h3v1h-3zM316 309h3v1h-3zM322 309h3v1h-3zM328 309h3v1h-3zM334 309h3v1h-3zM340 309h3v1h-3zM346 309h3v1h-3zM352 309h3v1h-3zM358 309h3v1h-3zM364 309h3v1h-3zM370 309h3v1h-3zM376 309h3v1h-3zM382 309h3v1h-3zM388 309h3v1h-3zM394 309h3v1h-3zM400 309h3v1h-3zM406 309h3v1h-3zM412 309h3v1h-3zM418 309h3v1h-3zM424 309h3v1h-3zM430 309h3v1h-3zM436 309h3v1h-3zM442 309h3v1h-3zM448 309h3v1h-3zM454 309h3v1h-3zM460 309h3v1h-3zM466 309h3v1h-3zM472 309h3v1h-3zM478 309h3v1h-3zM484 309h3v1h-3zM490 309h3v1h-3zM496 309h3v1h-3zM502 309h3v1h-3zM508 309h3v1h-3zM514 309h3v1h-3zM520 309h3v1h-3zM526 309h3v1h-3zM532 309h3v1h-3zM538 309h3v1h-3zM544 309h3v1h-3zM550 309h3v1h-3zM556 309h3v1h-3zM562 309h3v1h-3zM568 309h3v1h-3zM574 309h3v1h-3zM580 309h3v1h-3zM586 309h3v1h-3zM592 309h3v1h-3zM598 309h3v1h-3zM604 309h3v1h-3zM610 309h3v1h-3zM616 309h3v1h-3zM622 309h3v1h-3zM628 309h3v1h-3zM634 309h3v1h-3zM640 309h3v1h-3zM646 309h3v1h-3zM652 309h3v1h-3zM658 309h3v1h-3zM664 309h3v1h-3zM670 309h3v1h-3zM4 342h3v1h-3zM10 342h3v1h-3zM16 342h3v1h-3zM22 342h3v1h-3zM28 342h3v1h-3zM34 342h3v1h-3zM40 342h3v1h-3zM46 342h3v1h-3zM52 342h3v1h-3zM58 342h3v1h-3zM64 342h3v1h-3zM70 342h3v1h-3zM76 342h3v1h-3zM82 342h3v1h-3zM88 342h3v1h-3zM94 342h3v1h-3zM100 342h3v1h-3zM106 342h3v1h-3zM112 342h3v1h-3zM118 342h3v1h-3zM124 342h3v1h-3zM130 342h3v1h-3zM136 342h3v1h-3zM142 342h3v1h-3zM148 342h3v1h-3zM154 342h3v1h-3zM160 342h3v1h-3zM166 342h3v1h-3zM172 342h3v1h-3zM178 342h3v1h-3zM184 342h3v1h-3zM190 342h3v1h-3zM196 342h3v1h-3zM202 342h3v1h-3zM208 342h3v1h-3zM214 342h3v1h-3zM220 342h3v1h-3zM226 342h3v1h-3zM232 342h3v1h-3zM238 342h3v1h-3zM244 342h3v1h-3zM250 342h3v1h-3zM256 342h3v1h-3zM262 342h3v1h-3zM268 342h3v1h-3zM274 342h3v1h-3zM280 342h3v1h-3zM286 342h3v1h-3zM292 342h3v1h-3zM298 342h3v1h-3zM304 342h3v1h-3zM310 342h3v1h-3zM316 342h3v1h-3zM322 342h3v1h-3zM328 342h3v1h-3zM334 342h3v1h-3zM340 342h3v1h-3zM346 342h3v1h-3zM352 342h3v1h-3zM358 342h3v1h-3zM364 342h3v1h-3zM370 342h3v1h-3zM376 342h3v1h-3zM382 342h3v1h-3zM388 342h3v1h-3zM394 342h3v1h-3zM400 342h3v1h-3zM406 342h3v1h-3zM412 342h3v1h-3zM418 342h3v1h-3zM424 342h3v1h-3zM430 342h3v1h-3zM436 342h3v1h-3zM442 342h3v1h-3zM448 342h3v1h-3zM454 342h3v1h-3zM460 342h3v1h-3zM466 342h3v1h-3zM472 342h3v1h-3zM478 342h3v1h-3zM484 342h3v1h-3zM490 342h3v1h-3zM496 342h3v1h-3zM502 342h3v1h-3zM508 342h3v1h-3zM514 342h3v1h-3zM520 342h3v1h-3zM526 342h3v1h-3zM532 342h3v1h-3zM538 342h3v1h-3zM544 342h3v1h-3zM550 342h3v1h-3zM556 342h3v1h-3zM562 342h3v1h-3zM568 342h3v1h-3zM574 342h3v1h-3zM580 342h3v1h-3zM586 342h3v1h-3zM592 342h3v1h-3zM598 342h3v1h-3zM604 342h3v1h-3zM610 342h3v1h-3zM616 342h3v1h-3zM622 342h3v1h-3zM628 342h3v1h-3zM634 342h3v1h-3zM640 342h3v1h-3zM646 342h3v1h-3zM652 342h3v1h-3zM658 342h3v1h-3zM664 342h3v1h-3zM670 342h3v1h-3zM4 475h3v1h-3zM10 475h3v1h-3zM16 475h3v1h-3zM22 475h3v1h-3zM28 475h3v1h-3zM34 475h3v1h-3zM40 475h3v1h-3zM46 475h3v1h-3zM52 475h3v1h-3zM58 475h3v1h-3zM64 475h3v1h-3zM70 475h3v1h-3zM76 475h3v1h-3zM82 475h3v1h-3zM88 475h3v1h-3zM94 475h3v1h-3zM100 475h3v1h-3zM106 475h3v1h-3zM112 475h3v1h-3zM118 475h3v1h-3zM124 475h3v1h-3zM130 475h3v1h-3zM136 475h3v1h-3zM142 475h3v1h-3zM148 475h3v1h-3zM154 475h3v1h-3zM160 475h3v1h-3zM166 475h3v1h-3zM172 475h3v1h-3zM178 475h3v1h-3zM184 475h3v1h-3zM190 475h3v1h-3zM196 475h3v1h-3zM202 475h3v1h-3zM208 475h3v1h-3zM214 475h3v1h-3zM220 475h3v1h-3zM226 475h3v1h-3zM232 475h3v1h-3zM238 475h3v1h-3zM244 475h3v1h-3zM250 475h3v1h-3zM256 475h3v1h-3zM262 475h3v1h-3zM268 475h3v1h-3zM274 475h3v1h-3zM280 475h3v1h-3zM286 475h3v1h-3zM292 475h3v1h-3zM298 475h3v1h-3zM304 475h3v1h-3zM310 475h3v1h-3zM316 475h3v1h-3zM322 475h3v1h-3zM328 475h3v1h-3zM334 475h3v1h-3zM340 475h3v1h-3zM346 475h3v1h-3zM352 475h3v1h-3zM358 475h3v1h-3zM364 475h3v1h-3zM370 475h3v1h-3zM376 475h3v1h-3zM382 475h3v1h-3zM388 475h3v1h-3zM394 475h3v1h-3zM400 475h3v1h-3zM406 475h3v1h-3zM412 475h3v1h-3zM418 475h3v1h-3zM424 475h3v1h-3zM430 475h3v1h-3zM436 475h3v1h-3zM442 475h3v1h-3zM448 475h3v1h-3zM454 475h3v1h-3zM460 475h3v1h-3zM466 475h3v1h-3zM472 475h3v1h-3zM478 475h3v1h-3zM484 475h3v1h-3zM490 475h3v1h-3zM496 475h3v1h-3zM502 475h3v1h-3zM508 475h3v1h-3zM514 475h3v1h-3zM520 475h3v1h-3zM526 475h3v1h-3zM532 475h3v1h-3zM538 475h3v1h-3zM544 475h3v1h-3zM550 475h3v1h-3zM556 475h3v1h-3zM562 475h3v1h-3zM568 475h3v1h-3zM574 475h3v1h-3zM580 475h3v1h-3zM586 475h3v1h-3zM592 475h3v1h-3zM598 475h3v1h-3zM604 475h3v1h-3zM610 475h3v1h-3zM616 475h3v1h-3zM622 475h3v1h-3zM628 475h3v1h-3zM634 475h3v1h-3zM640 475h3v1h-3zM646 475h3v1h-3zM652 475h3v1h-3zM658 475h3v1h-3zM664 475h3v1h-3zM670 475h3v1h-3zM4 572h3v1h-3zM10 572h3v1h-3zM16 572h3v1h-3zM22 572h3v1h-3zM28 572h3v1h-3zM34 572h3v1h-3zM40 572h3v1h-3zM46 572h3v1h-3zM52 572h3v1h-3zM58 572h3v1h-3zM64 572h3v1h-3zM70 572h3v1h-3zM76 572h3v1h-3zM82 572h3v1h-3zM88 572h3v1h-3zM94 572h3v1h-3zM100 572h3v1h-3zM106 572h3v1h-3zM112 572h3v1h-3zM118 572h3v1h-3zM124 572h3v1h-3zM130 572h3v1h-3zM136 572h3v1h-3zM142 572h3v1h-3zM148 572h3v1h-3zM154 572h3v1h-3zM160 572h3v1h-3zM166 572h3v1h-3zM172 572h3v1h-3zM178 572h3v1h-3zM184 572h3v1h-3zM190 572h3v1h-3zM196 572h3v1h-3zM202 572h3v1h-3zM208 572h3v1h-3zM214 572h3v1h-3zM220 572h3v1h-3zM226 572h3v1h-3zM232 572h3v1h-3zM238 572h3v1h-3zM244 572h3v1h-3zM250 572h3v1h-3zM256 572h3v1h-3zM262 572h3v1h-3zM268 572h3v1h-3zM274 572h3v1h-3zM280 572h3v1h-3zM286 572h3v1h-3zM292 572h3v1h-3zM298 572h3v1h-3zM304 572h3v1h-3zM310 572h3v1h-3zM316 572h3v1h-3zM322 572h3v1h-3zM328 572h3v1h-3zM334 572h3v1h-3zM340 572h3v1h-3zM346 572h3v1h-3zM352 572h3v1h-3zM358 572h3v1h-3zM364 572h3v1h-3zM370 572h3v1h-3zM376 572h3v1h-3zM382 572h3v1h-3zM388 572h3v1h-3zM394 572h3v1h-3zM400 572h3v1h-3zM406 572h3v1h-3zM412 572h3v1h-3zM418 572h3v1h-3zM424 572h3v1h-3zM430 572h3v1h-3zM436 572h3v1h-3zM442 572h3v1h-3zM448 572h3v1h-3zM454 572h3v1h-3zM460 572h3v1h-3zM466 572h3v1h-3zM472 572h3v1h-3zM478 572h3v1h-3zM484 572h3v1h-3zM490 572h3v1h-3zM496 572h3v1h-3zM502 572h3v1h-3zM508 572h3v1h-3zM514 572h3v1h-3zM520 572h3v1h-3zM526 572h3v1h-3zM532 572h3v1h-3zM538 572h3v1h-3zM544 572h3v1h-3zM550 572h3v1h-3zM556 572h3v1h-3zM562 572h3v1h-3zM568 572h3v1h-3zM574 572h3v1h-3zM580 572h3v1h-3zM586 572h3v1h-3zM592 572h3v1h-3zM598 572h3v1h-3zM604 572h3v1h-3zM610 572h3v1h-3zM616 572h3v1h-3zM622 572h3v1h-3zM628 572h3v1h-3zM634 572h3v1h-3zM640 572h3v1h-3zM646 572h3v1h-3zM652 572h3v1h-3zM658 572h3v1h-3zM664 572h3v1h-3zM670 572h3v1h-3zM4 676h3v1h-3zM10 676h3v1h-3zM16 676h3v1h-3zM22 676h3v1h-3zM28 676h3v1h-3zM34 676h3v1h-3zM40 676h3v1h-3zM46 676h3v1h-3zM52 676h3v1h-3zM58 676h3v1h-3zM64 676h3v1h-3zM70 676h3v1h-3zM76 676h3v1h-3zM82 676h3v1h-3zM88 676h3v1h-3zM94 676h3v1h-3zM100 676h3v1h-3zM106 676h3v1h-3zM112 676h3v1h-3zM118 676h3v1h-3zM124 676h3v1h-3zM130 676h3v1h-3zM136 676h3v1h-3zM142 676h3v1h-3zM148 676h3v1h-3zM154 676h3v1h-3zM160 676h3v1h-3zM166 676h3v1h-3zM172 676h3v1h-3zM178 676h3v1h-3zM184 676h3v1h-3zM190 676h3v1h-3zM196 676h3v1h-3zM202 676h3v1h-3zM208 676h3v1h-3zM214 676h3v1h-3zM220 676h3v1h-3zM226 676h3v1h-3zM232 676h3v1h-3zM238 676h3v1h-3zM244 676h3v1h-3zM250 676h3v1h-3zM256 676h3v1h-3zM262 676h3v1h-3zM268 676h3v1h-3zM274 676h3v1h-3zM280 676h3v1h-3zM286 676h3v1h-3zM292 676h3v1h-3zM298 676h3v1h-3zM304 676h3v1h-3zM310 676h3v1h-3zM316 676h3v1h-3zM322 676h3v1h-3zM328 676h3v1h-3zM334 676h3v1h-3zM340 676h3v1h-3zM346 676h3v1h-3zM352 676h3v1h-3zM358 676h3v1h-3zM364 676h3v1h-3zM370 676h3v1h-3zM376 676h3v1h-3zM382 676h3v1h-3zM388 676h3v1h-3zM394 676h3v1h-3zM400 676h3v1h-3zM406 676h3v1h-3zM412 676h3v1h-3zM418 676h3v1h-3zM424 676h3v1h-3zM430 676h3v1h-3zM436 676h3v1h-3zM442 676h3v1h-3zM448 676h3v1h-3zM454 676h3v1h-3zM460 676h3v1h-3zM466 676h3v1h-3zM472 676h3v1h-3zM478 676h3v1h-3zM484 676h3v1h-3zM490 676h3v1h-3zM496 676h3v1h-3zM502 676h3v1h-3zM508 676h3v1h-3zM514 676h3v1h-3zM520 676h3v1h-3zM526 676h3v1h-3zM532 676h3v1h-3zM538 676h3v1h-3zM544 676h3v1h-3zM550 676h3v1h-3zM556 676h3v1h-3zM562 676h3v1h-3zM568 676h3v1h-3zM574 676h3v1h-3zM580 676h3v1h-3zM586 676h3v1h-3zM592 676h3v1h-3zM598 676h3v1h-3zM604 676h3v1h-3zM610 676h3v1h-3zM616 676h3v1h-3zM622 676h3v1h-3zM628 676h3v1h-3zM634 676h3v1h-3zM640 676h3v1h-3zM646 676h3v1h-3zM652 676h3v1h-3zM658 676h3v1h-3zM664 676h3v1h-3zM670 676h3v1h-3zM4 710h3v1h-3zM10 710h3v1h-3zM16 710h3v1h-3zM22 710h3v1h-3zM28 710h3v1h-3zM34 710h3v1h-3zM40 710h3v1h-3zM46 710h3v1h-3zM52 710h3v1h-3zM58 710h3v1h-3zM64 710h3v1h-3zM70 710h3v1h-3zM76 710h3v1h-3zM82 710h3v1h-3zM88 710h3v1h-3zM94 710h3v1h-3zM100 710h3v1h-3zM106 710h3v1h-3zM112 710h3v1h-3zM118 710h3v1h-3zM124 710h3v1h-3zM130 710h3v1h-3zM136 710h3v1h-3zM142 710h3v1h-3zM148 710h3v1h-3zM154 710h3v1h-3zM160 710h3v1h-3zM166 710h3v1h-3zM172 710h3v1h-3zM178 710h3v1h-3zM184 710h3v1h-3zM190 710h3v1h-3zM196 710h3v1h-3zM202 710h3v1h-3zM208 710h3v1h-3zM214 710h3v1h-3zM220 710h3v1h-3zM226 710h3v1h-3zM232 710h3v1h-3zM238 710h3v1h-3zM244 710h3v1h-3zM250 710h3v1h-3zM256 710h3v1h-3zM262 710h3v1h-3zM268 710h3v1h-3zM274 710h3v1h-3zM280 710h3v1h-3zM286 710h3v1h-3zM292 710h3v1h-3zM298 710h3v1h-3zM304 710h3v1h-3zM310 710h3v1h-3zM316 710h3v1h-3zM322 710h3v1h-3zM328 710h3v1h-3zM334 710h3v1h-3zM340 710h3v1h-3zM346 710h3v1h-3zM352 710h3v1h-3zM358 710h3v1h-3zM364 710h3v1h-3zM370 710h3v1h-3zM376 710h3v1h-3zM382 710h3v1h-3zM388 710h3v1h-3zM394 710h3v1h-3zM400 710h3v1h-3zM406 710h3v1h-3zM412 710h3v1h-3zM418 710h3v1h-3zM424 710h3v1h-3zM430 710h3v1h-3zM436 710h3v1h-3zM442 710h3v1h-3zM448 710h3v1h-3zM454 710h3v1h-3zM460 710h3v1h-3zM466 710h3v1h-3zM472 710h3v1h-3zM478 710h3v1h-3zM484 710h3v1h-3zM490 710h3v1h-3zM496 710h3v1h-3zM502 710h3v1h-3zM508 710h3v1h-3zM514 710h3v1h-3zM520 710h3v1h-3zM526 710h3v1h-3zM532 710h3v1h-3zM538 710h3v1h-3zM544 710h3v1h-3zM550 710h3v1h-3zM556 710h3v1h-3zM562 710h3v1h-3zM568 710h3v1h-3zM574 710h3v1h-3zM580 710h3v1h-3zM586 710h3v1h-3zM592 710h3v1h-3zM598 710h3v1h-3zM604 710h3v1h-3zM610 710h3v1h-3zM616 710h3v1h-3zM622 710h3v1h-3zM628 710h3v1h-3zM634 710h3v1h-3zM640 710h3v1h-3zM646 710h3v1h-3zM652 710h3v1h-3zM658 710h3v1h-3zM664 710h3v1h-3zM670 710h3v1h-3z"/>
<polyline points="3.0,248.4 16.7,247.1 33.5,246.4 40.2,247.1 50.2,249.7 60.2,252.1 68.6,254.7 75.3,256.3 83.7,259.3 93.7,263.4 103.8,267.1 113.0,270.4 120.0,272.7 128.4,275.5 135.1,276.4 151.8,276.4 163.5,275.2 170.2,273.8 180.3,269.8 188.7,266.0 195.4,262.6 203.7,261.5 213.8,260.5 223.8,260.1 230.0,259.8 240.1,258.9 253.5,258.5 270.2,257.7 286.9,253.8 295.3,251.0 303.7,248.2 313.7,243.5 323.8,239.3 333.8,235.9 340.0,233.4 350.1,228.5 360.1,223.8 370.2,219.3 380.2,215.1 390.2,211.8 396.9,212.6 403.6,215.1 413.7,217.7 420.4,218.8 430.4,217.7 438.8,216.3 450.0,214.7 460.1,212.0 470.1,206.9 480.2,200.2 490.2,193.9 500.2,187.7 510.3,181.8 520.3,176.0 530.0,168.3 539.8,159.9 549.5,151.5 558.4,146.2 568.0,141.3 577.6,136.8 587.2,131.7 599.5,125.0" fill="none" stroke="#00ff7f" stroke-width="1" stroke-linejoin="round"/>
<polyline points="3.0,260.4 10.0,258.4 16.7,256.8 23.5,256.5 25.5,255.5 49.5,255.5 50.5,256.5 57.5,256.5 58.5,255.5 81.5,255.5 82.5,256.5 101.5,256.5 102.5,257.5 110.5,258.0 120.0,260.0 130.1,262.1 140.1,264.0 148.5,264.3 160.2,264.0 170.2,261.8 180.3,259.3 190.3,257.1 197.0,256.5 210.4,256.5 223.8,256.5 230.0,257.3 240.1,257.7 250.5,258.1 258.5,259.2 266.9,260.4 273.5,260.4 278.5,259.2 287.0,257.5 293.5,256.5 300.5,256.1 306.5,255.5 323.8,252.7 333.8,251.2 340.0,250.7 350.1,249.5 360.1,247.8 370.2,246.1 380.2,243.3 390.2,240.2 396.9,238.6 407.0,237.2 417.0,236.1 427.1,233.9 437.1,230.2 450.0,226.4 460.1,222.0 470.1,217.8 480.2,212.8 490.2,209.5 500.2,204.4 510.3,198.6 520.3,194.4 530.0,190.7 539.8,187.4 549.5,184.0 558.4,180.2 568.0,175.8 577.6,171.0 587.2,166.8 599.5,161.8" fill="none" stroke="#ff0000" stroke-width="1" stroke-linejoin="round"/>
<polyline points="3.0,324.5 16.7,320.4 33.5,316.2 50.2,311.2 66.9,305.3 75.3,302.8 83.7,300.6 100.4,297.8 117.2,294.5 130.1,291.1 140.1,287.7 148.5,285.7 160.2,282.7 170.2,279.4 180.3,275.2 190.3,270.2 200.4,265.5 210.4,262.6 216.5,260.9 225.1,259.7 233.5,258.4 241.5,257.5 248.5,256.7 283.5,256.5 287.0,255.0 293.5,253.7 300.5,252.5 307.1,252.0 320.4,250.9 340.0,249.3 355.1,248.1 371.8,245.6 385.2,243.3 396.9,242.3 413.7,242.3 430.4,241.6 451.7,241.2 460.1,239.6 470.1,237.9 480.2,236.7 490.2,234.6 500.2,232.1 510.3,228.7 520.3,225.4 530.4,222.0 540.4,218.3 548.8,214.4 558.4,211.4 568.0,209.0 577.6,205.6 587.2,202.1 599.5,199.2" fill="none" stroke="#0000ff" stroke-width="1" stroke-linejoin="round"/>
<polyline points="3.0,249.2 15.1,251.7 25.1,252.2 30.1,254.2 38.5,257.6 50.2,263.1 66.9,263.5 75.3,265.5 83.7,268.5 90.4,271.0 100.4,273.2 110.5,274.8 115.0,276.0 120.0,278.5 126.7,282.2 135.1,284.9 143.5,288.2 153.5,291.1 163.5,289.7 171.9,284.4 180.3,278.5 190.3,268.5 197.0,262.6 207.1,257.6 217.1,252.6 226.7,246.5 236.7,240.5 245.1,235.9 250.1,235.4 261.8,235.1 275.2,233.1 281.9,229.7 292.0,225.1 300.5,225.1 308.5,226.7 316.9,229.1 320.2,231.2 330.3,234.5 335.8,235.3 340.0,233.9 350.1,231.0 360.1,228.9 370.2,222.7 380.2,217.7 388.5,211.0 396.9,206.8 402.0,204.8 410.3,203.8 420.4,204.3 430.4,203.1 438.8,200.9 441.7,199.4 453.4,195.2 465.1,189.4 473.5,186.5 483.5,184.4 493.6,179.3 500.2,176.8 510.3,170.1 520.3,163.4 527.7,158.5 533.5,151.5 539.2,143.2 545.0,134.5 550.7,126.9 558.4,117.6 568.0,108.6 577.6,101.9 587.2,92.3 593.0,86.5 597.8,82.7 599.5,82.0" fill="none" stroke="#000000" stroke-width="1" stroke-linejoin="round"/>
<path fill="#c0c0c0" d="M3 42h671v1h-671z"/>
<path fill="#fff" d="M3 52h671v1h-671zM3 63h671v1h-671zM3 85h671v1h-671zM3 98h671v1h-671zM3 119h671v1h-671zM3 136h671v1h-671zM3 161h671v1h-671zM3 179h671v1h-671zM3 200h671v1h-671zM3 219h671v1h-671zM3 232h671v1h-671zM3 255h671v1h-671zM3 294h671v1h-671zM3 307h671v1h-671zM3 321h671v1h-671z"/>
<path fill="#90ee90" d="M3 52h18v1h-18zM27 52h18v1h-18zM51 52h18v1h-18zM75 52h18v1h-18zM99 52h18v1h-18zM123 52h18v1h-18zM147 52h18v1h-18zM171 52h18v1h-18zM195 52h18v1h-18zM219 52h18v1h-18zM243 52h18v1h-18zM267 52h18v1h-18zM291 52h18v1h-18zM315 52h18v1h-18zM339 52h18v1h-18zM363 52h18v1h-18zM387 52h18v1h-18zM411 52h18v1h-18zM435 52h18v1h-18zM459 52h18v1h-18zM483 52h18v1h-18zM507 52h18v1h-18zM531 52h18v1h-18zM555 52h18v1h-18zM579 52h18v1h-18zM603 52h18v1h-18zM627 52h18v1h-18zM651 52h18v1h-18zM3 63h18v1h-18zM27 63h18v1h-18zM51 63h18v1h-18zM75 63h18v1h-18zM99 63h18v1h-18zM123 63h18v1h-18zM147 63h18v1h-18zM171 63h18v1h-18zM195 63h18v1h-18zM219 63h18v1h-18zM243 63h18v1h-18zM267 63h18v1h-18zM291 63h18v1h-18zM315 63h18v1h-18zM339 63h18v1h-18zM363 63h18v1h-18zM387 63h18v1h-18zM411 63h18v1h-18zM435 63h18v1h-18zM459 63h18v1h-18zM483 63h18v1h-18zM507 63h18v1h-18zM531 63h18v1h-18zM555 63h18v1h-18zM579 63h18v1h-18zM603 63h18v1h-18zM627 63h18v1h-18zM651 63h18v1h-18zM3 85h18v1h-18zM27 85h18v1h-18zM51 85h18v1h-18zM75 85h18v1h-18zM99 85h18v1h-18zM123 85h18v1h-18zM147 85h18v1h-18zM171 85h18v1h-18zM195 85h18v1h-18zM219 85h18v1h-18zM243 85h18v1h-18zM267 85h18v1h-18zM291 85h18v1h-18zM315 85h18v1h-18zM339 85h18v1h-18zM363 85h18v1h-18zM387 85h18v1h-18zM411 85h18v1h-18zM435 85h18v1h-18zM459 85h18v1h-18zM483 85h18v1h-18zM507 85h18v1h-18zM531 85h18v1h-18zM555 85h18v1h-18zM579 85h18v1h-18zM603 85h18v1h-18zM627 85h18v1h-18zM651 85h18v1h-18zM3 98h18v1h-18zM27 98h18v1h-18zM51 98h18v1h-18zM75 98h18v1h-18zM99 98h18v1h-18zM123 98h18v1h-18zM147 98h18v1h-18zM171 98h18v1h-18zM195 98h18v1h-18zM219 98h18v1h-18zM243 98h18v1h-18zM267 98h18v1h-18zM291 98h18v1h-18zM315 98h18v1h-18zM339 98h18v1h-18zM363 98h18v1h-18zM387 98h18v1h-18zM411 98h18v1h-18zM435 98h18v1h-18zM459 98h18v1h-18zM483 98h18v1h-18zM507 98h18v1h-18zM531 98h18v1h-18zM555 98h18v1h-18zM579 98h18v1h-18zM603 98h18v1h-18zM627 98h18v1h-18zM651 98h18v1h-18zM3 119h18v1h-18zM27 119h18v1h-18zM51 119h18v1h-18zM75 119h18v1h-18zM99 119h18v1h-18zM123 119h18v1h-18zM147 119h18v1h-18zM171 119h18v1h-18zM195 119h18v1h-18zM219 119h18v1h-18zM243 119h18v1h-18zM267 119h18v1h-18zM291 119h18v1h-18zM315 119h18v1h-18zM339 119h18v1h-18zM363 119h18v1h-18zM387 119h18v1h-18zM411 119h18v1h-18zM435 119h18v1h-18zM459 119h18v1h-18zM483 119h18v1h-18zM507 119h18v1h-18zM531 119h18v1h-18zM555 119h18v1h-18zM579 119h18v1h-18zM603 119h18v1h-18zM627 119h18v1h-18zM651 119h18v1h-18zM3 136h18v1h-18zM27 136h18v1h-18zM51 136h18v1h-18zM75 136h18v1h-18zM99 136h18v1h-18zM123 136h18v1h-18zM147 136h18v1h-18zM171 136h18v1h-18zM195 136h18v1h-18zM219 136h18v1h-18zM243 136h18v1h-18zM267 136h18v1h-18zM291 136h18v1h-18zM315 136h18v1h-18zM339 136h18v1h-18zM363 136h18v1h-18zM387 136h18v1h-18zM411 136h18v1h-18zM435 136h18v1h-18zM459 136h18v1h-18zM483 136h18v1h-18zM507 136h18v1h-18zM531 136h18v1h-18zM555 136h18v1h-18zM579 136h18v1h-18zM603 136h18v1h-18zM627 136h18v1h-18zM651 136h18v1h-18zM3 161h18v1h-18zM27 161h18v1h-18zM51 161h18v1h-18zM75 161h18v1h-18zM99 161h18v1h-18zM123 161h18v1h-18zM147 161h18v1h-18zM171 161h18v1h-18zM195 161h18v1h-18zM219 161h18v1h-18zM243 161h18v1h-18zM267 161h18v1h-18zM291 161h18v1h-18zM315 161h18v1h-18zM339 161h18v1h-18zM363 161h18v1h-18zM387 161h18v1h-18zM411 161h18v1h-18zM435 161h18v1h-18zM459 161h18v1h-18zM483 161h18v1h-18zM507 161h18v1h-18zM531 161h18v1h-18zM555 161h18v1h-18zM579 161h18v1h-18zM603 161h18v1h-18zM627 161h18v1h-18zM651 161h18v1h-18zM3 179h18v1h-18zM27 179h18v1h-18zM51 179h18v1h-18zM75 179h18v1h-18zM99 179h18v1h-18zM123 179h18v1h-18zM147 179h18v1h-18zM171 179h18v1h-18zM195 179h18v1h-18zM219 179h18v1h-18zM243 179h18v1h-18zM267 179h18v1h-18zM291 179h18v1h-18zM315 179h18v1h-18zM339 179h18v1h-18zM363 179h18v1h-18zM387 179h18v1h-18zM411 179h18v1h-18zM435 179h18v1h-18zM459 179h18v1h-18zM483 179h18v1h-18zM507 179h18v1h-18zM531 179h18v1h-18zM555 179h18v1h-18zM579 179h18v1h-18zM603 179h18v1h-18zM627 179h18v1h-18zM651 179h18v1h-18zM3 200h18v1h-18zM27 200h18v1h-18zM51 200h18v1h-18zM75 200h18v1h-18zM99 200h18v1h-18zM123 200h18v1h-18zM147 200h18v1h-18zM171 200h18v1h-18zM195 200h18v1h-18zM219 200h18v1h-18zM243 200h18v1h-18zM267 200h18v1h-18zM291 200h18v1h-18zM315 200h18v1h-18zM339 200h18v1h-18zM363 200h18v1h-18zM387 200h18v1h-18zM411 200h18v1h-18zM435 200h18v1h-18zM459 200h18v1h-18zM483 200h18v1h-18zM507 200h18v1h-18zM531 200h18v1h-18zM555 200h18v1h-18zM579 200h18v1h-18zM603 200h18v1h-18zM627 200h18v1h-18zM651 200h18v1h-18zM3 219h18v1h-18zM27 219h18v1h-18zM51 219h18v1h-18zM75 219h18v1h-18zM99 219h18v1h-18zM123 219h18v1h-18zM147 219h18v1h-18zM171 219h18v1h-18zM195 219h18v1h-18zM219 219h18v1h-18zM243 219h18v1h-18zM267 219h18v1h-18zM291 219h18v1h-18zM315 219h18v1h-18zM339 219h18v1h-18zM363 219h18v1h-18zM387 219h18v1h-18zM411 219h18v1h-18zM435 219h18v1h-18zM459 219h18v1h-18zM483 219h18v1h-18zM507 219h18v1h-18zM531 219h18v1h-18zM555 219h18v1h-18zM579 219h18v1h-18zM603 219h18v1h-18zM627 219h18v1h-18zM651 219h18v1h-18zM3 232h18v1h-18zM27 232h18v1h-18zM51 232h18v1h-18zM75 232h18v1h-18zM99 232h18v1h-18zM123 232h18v1h-18zM147 232h18v1h-18zM171 232h18v1h-18zM195 232h18v1h-18zM219 232h18v1h-18zM243 232h18v1h-18zM267 232h18v1h-18zM291 232h18v1h-18zM315 232h18v1h-18zM339 232h18v1h-18zM363 232h18v1h-18zM387 232h18v1h-18zM411 232h18v1h-18zM435 232h18v1h-18zM459 232h18v1h-18zM483 232h18v1h-18zM507 232h18v1h-18zM531 232h18v1h-18zM555 232h18v1h-18zM579 232h18v1h-18zM603 232h18v1h-18zM627 232h18v1h-18zM651 232h18v1h-18zM3 255h18v1h-18zM27 255h18v1h-18zM51 255h18v1h-18zM75 255h18v1h-18zM99 255h18v1h-18zM123 255h18v1h-18zM147 255h18v1h-18zM171 255h18v1h-18zM195 255h18v1h-18zM219 255h18v1h-18zM243 255h18v1h-18zM267 255h18v1h-18zM291 255h18v1h-18zM315 255h18v1h-18zM339 255h18v1h-18zM363 255h18v1h-18zM387 255h18v1h-18zM411 255h18v1h-18zM435 255h18v1h-18zM459 255h18v1h-18zM483 255h18v1h-18zM507 255h18v1h-18zM531 255h18v1h-18zM555 255h18v1h-18zM579 255h18v1h-18zM603 255h18v1h-18zM627 255h18v1h-18zM651 255h18v1h-18zM3 294h18v1h-18zM27 294h18v1h-18zM51 294h18v1h-18zM75 294h18v1h-18zM99 294h18v1h-18zM123 294h18v1h-18zM147 294h18v1h-18zM171 294h18v1h-18zM195 294h18v1h-18zM219 294h18v1h-18zM243 294h18v1h-18zM267 294h18v1h-18zM291 294h18v1h-18zM315 294h18v1h-18zM339 294h18v1h-18zM363 294h18v1h-18zM387 294h18v1h-18zM411 294h18v1h-18zM435 294h18v1h-18zM459 294h18v1h-18zM483 294h18v1h-18zM507 294h18v1h-18zM531 294h18v1h-18zM555 294h18v1h-18zM579 294h18v1h-18zM603 294h18v1h-18zM627 294h18v1h-18zM651 294h18v1h-18zM3 307h18v1h-18zM27 307h18v1h-18zM51 307h18v1h-18zM75 307h18v1h-18zM99 307h18v1h-18zM123 307h18v1h-18zM147 307h18v1h-18zM171 307h18v1h-18zM195 307h18v1h-18zM219 307h18v1h-18zM243 307h18v1h-18zM267 307h18v1h-18zM291 307h18v1h-18zM315 307h18v1h-18zM339 307h18v1h-18zM363 307h18v1h-18zM387 307h18v1h-18zM411 307h18v1h-18zM435 307h18v1h-18zM459 307h18v1h-18zM483 307h18v1h-18zM507 307h18v1h-18zM531 307h18v1h-18zM555 307h18v1h-18zM579 307h18v1h-18zM603 307h18v1h-18zM627 307h18v1h-18zM651 307h18v1h-18zM3 321h18v1h-18zM27 321h18v1h-18zM51 321h18v1h-18zM75 321h18v1h-18zM99 321h18v1h-18zM123 321h18v1h-18zM147 321h18v1h-18zM171 321h18v1h-18zM195 321h18v1h-18zM219 321h18v1h-18zM243 321h18v1h-18zM267 321h18v1h-18zM291 321h18v1h-18zM315 321h18v1h-18zM339 321h18v1h-18zM363 321h18v1h-18zM387 321h18v1h-18zM411 321h18v1h-18zM435 321h18v1h-18zM459 321h18v1h-18zM483 321h18v1h-18zM507 321h18v1h-18zM531 321h18v1h-18zM555 321h18v1h-18zM579 321h18v1h-18zM603 321h18v1h-18zM627 321h18v1h-18zM651 321h18v1h-18z"/>
<path fill="#008080" d="M3 24h671v3h-671zM3 335h671v3h-671z"/>
<path d="M306 255.5L307.5 254H423L425 255.5L423 257H307.5Z" fill="#0000ff"/>
<path d="M509 85.5L510.5 84H616L618 85.5L616 87H510.5Z" fill="#0000ff"/>
<path fill="#000" d="M3 221h1v23h-1zM2 226h3v14h-3zM7 225h1v17h-1zM6 226h3v5h-3zM11 229h1v15h-1zM10 230h3v9h-3zM15 235h1v42h-1zM14 238h3v20h-3zM19 242h1v20h-1zM18 245h3v12h-3zM23 233h1v17h-1zM22 245h3v3h-3zM27 245h1v36h-1zM26 247h3v24h-3zM31 266h1v22h-1zM30 270h3v17h-3zM35 275h1v21h-1zM34 278h3v9h-3zM39 277h1v40h-1zM38 277h3v24h-3zM43 292h1v13h-1zM42 297h3v5h-3zM47 294h1v33h-1zM46 297h3v13h-3zM51 293h1v27h-1zM50 300h3v10h-3zM55 274h1v32h-1zM54 279h3v22h-3zM59 277h1v9h-1zM58 279h3v1h-3zM63 261h1v27h-1zM62 270h3v10h-3zM67 267h1v34h-1zM66 270h3v18h-3zM71 276h1v13h-1zM70 279h3v9h-3zM75 276h1v18h-1zM74 279h3v9h-3zM79 285h1v25h-1zM78 286h3v24h-3zM83 300h1v18h-1zM82 309h3v1h-3zM87 319h1v19h-1zM86 327h3v6h-3zM91 308h1v21h-1zM90 310h3v18h-3zM95 297h1v21h-1zM94 310h3v4h-3zM99 308h1v20h-1zM98 311h3v3h-3zM103 293h1v28h-1zM102 308h3v4h-3zM107 299h1v12h-1zM106 301h3v8h-3zM111 286h1v28h-1zM110 300h3v2h-3zM115 277h1v46h-1zM114 300h3v7h-3zM119 277h1v30h-1zM118 292h3v15h-3zM123 284h1v15h-1zM122 292h3v1h-3zM127 287h1v15h-1zM126 292h3v6h-3zM131 286h1v18h-1zM130 290h3v8h-3zM135 255h1v48h-1zM134 289h3v3h-3zM139 281h1v16h-1zM138 284h3v6h-3zM143 271h1v17h-1zM142 278h3v7h-3zM147 258h1v24h-1zM146 275h3v4h-3zM151 260h1v23h-1zM150 263h3v13h-3zM155 259h1v8h-1zM154 263h3v2h-3zM159 227h1v47h-1zM158 232h3v33h-3zM163 231h1v17h-1zM162 232h3v13h-3zM167 208h1v37h-1zM166 213h3v32h-3zM171 197h1v23h-1zM170 206h3v7h-3zM175 165h1v45h-1zM174 177h3v30h-3zM179 173h1v14h-1zM178 177h3v8h-3zM183 167h1v34h-1zM182 180h3v5h-3zM187 177h1v14h-1zM186 180h3v4h-3zM191 153h1v35h-1zM190 156h3v28h-3zM195 150h1v28h-1zM194 155h3v17h-3zM199 169h1v37h-1zM198 171h3v28h-3zM203 196h1v10h-1zM202 198h3v2h-3zM207 204h1v25h-1zM206 212h3v12h-3zM211 215h1v20h-1zM210 223h3v12h-3zM215 209h1v26h-1zM214 219h3v16h-3zM219 217h1v14h-1zM218 219h3v6h-3zM223 224h1v20h-1zM222 224h3v16h-3zM227 234h1v6h-1zM226 235h3v5h-3zM231 223h1v21h-1zM230 231h3v5h-3zM235 223h1v14h-1zM234 231h3v4h-3zM239 214h1v23h-1zM238 230h3v5h-3zM243 223h1v17h-1zM242 224h3v6h-3zM247 217h1v53h-1zM246 224h3v42h-3zM251 265h1v18h-1zM250 265h3v7h-3zM255 269h1v25h-1zM254 271h3v11h-3zM259 275h1v18h-1zM258 281h3v7h-3zM263 276h1v35h-1zM262 287h3v9h-3zM267 281h1v26h-1zM266 283h3v13h-3zM271 260h1v28h-1zM270 265h3v19h-3zM275 257h1v12h-1zM274 258h3v8h-3zM279 194h1v68h-1zM278 205h3v55h-3zM283 190h1v32h-1zM282 205h3v10h-3zM287 194h1v24h-1zM286 202h3v13h-3zM291 177h1v35h-1zM290 179h3v24h-3zM295 173h1v61h-1zM294 179h3v51h-3zM299 222h1v21h-1zM298 223h3v7h-3zM303 220h1v21h-1zM302 223h3v4h-3zM307 222h1v35h-1zM306 226h3v28h-3zM311 225h1v31h-1zM310 225h3v29h-3zM315 220h1v19h-1zM314 225h3v9h-3zM319 214h1v22h-1zM318 230h3v2h-3zM323 227h1v9h-1zM322 230h3v4h-3zM327 224h1v22h-1zM326 234h3v3h-3zM331 204h1v33h-1zM330 211h3v25h-3zM335 189h1v25h-1zM334 194h3v18h-3zM339 185h1v14h-1zM338 188h3v6h-3zM343 177h1v16h-1zM342 180h3v10h-3zM347 178h1v11h-1zM346 180h3v7h-3zM351 168h1v30h-1zM350 186h3v6h-3zM355 183h1v15h-1zM354 191h3v3h-3zM359 190h1v14h-1zM358 191h3v3h-3zM363 160h1v37h-1zM362 162h3v30h-3zM367 148h1v16h-1zM366 154h3v9h-3zM371 152h1v9h-1zM370 153h3v2h-3zM375 146h1v23h-1zM374 154h3v14h-3zM379 158h1v12h-1zM378 161h3v6h-3zM383 155h1v17h-1zM382 162h3v6h-3zM387 157h1v23h-1zM386 167h3v9h-3zM391 158h1v21h-1zM390 169h3v7h-3zM395 162h1v76h-1zM394 169h3v59h-3zM399 222h1v30h-1zM398 227h3v15h-3zM403 230h1v15h-1zM402 232h3v10h-3zM407 223h1v20h-1zM406 232h3v1h-3zM411 230h1v27h-1zM410 232h3v3h-3zM415 213h1v30h-1zM414 219h3v16h-3zM419 212h1v16h-1zM418 220h3v7h-3zM423 202h1v26h-1zM422 211h3v15h-3zM427 199h1v13h-1zM426 200h3v12h-3zM431 182h1v28h-1zM430 185h3v16h-3zM435 181h1v25h-1zM434 185h3v6h-3zM439 175h1v21h-1zM438 177h3v14h-3zM443 177h1v18h-1zM442 177h3v16h-3zM447 174h1v42h-1zM446 177h3v29h-3zM451 183h1v25h-1zM450 185h3v21h-3zM455 168h1v18h-1zM454 177h3v8h-3zM459 152h1v28h-1zM458 156h3v22h-3zM463 137h1v30h-1zM462 138h3v19h-3zM467 138h1v21h-1zM466 138h3v18h-3zM471 131h1v27h-1zM470 147h3v9h-3zM475 140h1v21h-1zM474 147h3v12h-3zM479 135h1v26h-1zM478 143h3v16h-3zM483 134h1v12h-1zM482 142h3v1h-3zM487 118h1v27h-1zM486 129h3v13h-3zM491 120h1v12h-1zM490 129h3v1h-3zM495 124h1v10h-1zM494 126h3v3h-3zM499 98h1v37h-1zM498 102h3v25h-3zM503 72h1v38h-1zM502 78h3v25h-3zM507 64h1v16h-1zM506 72h3v6h-3zM511 72h1v14h-1zM510 72h3v6h-3zM515 70h1v15h-1zM514 77h3v8h-3zM519 68h1v21h-1zM518 72h3v13h-3zM523 65h1v9h-1zM522 67h3v5h-3zM527 65h1v15h-1zM526 67h3v5h-3zM531 64h1v16h-1zM530 66h3v6h-3zM535 43h1v26h-1zM534 56h3v11h-3zM539 48h1v14h-1zM538 53h3v4h-3zM543 26h1v31h-1zM542 27h3v26h-3zM547 26h1v26h-1zM546 27h3v24h-3zM551 41h1v15h-1zM550 47h3v4h-3zM555 45h1v26h-1zM554 47h3v21h-3zM559 54h1v17h-1zM558 61h3v7h-3zM563 58h1v8h-1zM562 61h3v2h-3zM567 54h1v20h-1zM566 64h3v8h-3zM571 54h1v32h-1zM570 64h3v21h-3zM575 66h1v19h-1zM574 77h3v8h-3zM579 69h1v12h-1zM578 73h3v5h-3zM583 39h1v37h-1zM582 45h3v29h-3zM587 41h1v10h-1zM586 45h3v6h-3zM591 28h1v23h-1zM590 30h3v21h-3zM595 20h1v37h-1zM594 30h3v22h-3zM599 37h1v17h-1zM598 42h3v10h-3z"/>
<path fill="#fff" d="M3 227h1v12h-1zM19 246h1v10h-1zM35 279h1v7h-1zM43 298h1v3h-1zM51 301h1v8h-1zM55 280h1v20h-1zM63 271h1v8h-1zM71 280h1v7h-1zM87 328h1v4h-1zM91 311h1v16h-1zM99 312h1v1h-1zM103 309h1v2h-1zM107 302h1v6h-1zM119 293h1v13h-1zM131 291h1v6h-1zM135 290h1v1h-1zM139 285h1v4h-1zM143 279h1v5h-1zM147 276h1v2h-1zM151 264h1v11h-1zM159 233h1v31h-1zM167 214h1v30h-1zM171 207h1v5h-1zM175 178h1v28h-1zM183 181h1v3h-1zM191 157h1v26h-1zM215 220h1v14h-1zM227 236h1v3h-1zM231 232h1v3h-1zM239 231h1v3h-1zM243 225h1v4h-1zM267 284h1v11h-1zM271 266h1v17h-1zM275 259h1v6h-1zM279 206h1v53h-1zM287 203h1v11h-1zM291 180h1v22h-1zM299 224h1v5h-1zM311 226h1v27h-1zM323 231h1v2h-1zM327 235h1v1h-1zM331 212h1v23h-1zM335 195h1v16h-1zM339 189h1v4h-1zM343 181h1v8h-1zM359 192h1v1h-1zM363 163h1v28h-1zM367 155h1v7h-1zM379 162h1v4h-1zM391 170h1v5h-1zM403 233h1v8h-1zM415 220h1v14h-1zM423 212h1v13h-1zM427 201h1v10h-1zM431 186h1v14h-1zM439 178h1v12h-1zM451 186h1v19h-1zM455 178h1v6h-1zM459 157h1v20h-1zM463 139h1v17h-1zM471 148h1v7h-1zM479 144h1v14h-1zM487 130h1v11h-1zM495 127h1v1h-1zM499 103h1v23h-1zM503 79h1v23h-1zM507 73h1v4h-1zM519 73h1v11h-1zM523 68h1v3h-1zM531 67h1v4h-1zM535 57h1v9h-1zM539 54h1v2h-1zM543 28h1v24h-1zM551 48h1v2h-1zM559 62h1v5h-1zM567 65h1v6h-1zM575 78h1v6h-1zM579 74h1v3h-1zM583 46h1v27h-1zM591 31h1v19h-1zM599 43h1v8h-1zM19 5h203v11h-203z"/>
<path d="M6 9H13L9.5 13Z" fill="#000"/>
<path fill="#c0c0c0" d="M3 458h1v18h-1zM7 455h1v21h-1zM11 455h1v21h-1zM15 460h1v16h-1zM19 463h1v13h-1zM23 465h1v11h-1zM27 472h1v4h-1zM31 475h1v8h-1zM35 475h1v16h-1zM39 475h1v25h-1zM43 475h1v32h-1zM47 475h1v41h-1zM51 475h1v45h-1zM55 475h1v41h-1zM59 475h1v38h-1zM63 475h1v33h-1zM67 475h1v33h-1zM71 475h1v31h-1zM75 475h1v30h-1zM79 475h1v36h-1zM83 475h1v39h-1zM87 475h1v48h-1zM91 475h1v49h-1zM95 475h1v50h-1zM99 475h1v52h-1zM103 475h1v48h-1zM107 475h1v44h-1zM111 475h1v40h-1zM115 475h1v39h-1zM119 475h1v33h-1zM123 475h1v27h-1zM127 475h1v25h-1zM131 475h1v21h-1zM135 475h1v17h-1zM139 475h1v12h-1zM143 475h1v6h-1zM147 475h1v1h-1zM151 470h1v6h-1zM155 464h1v12h-1zM159 450h1v26h-1zM163 445h1v31h-1zM167 430h1v46h-1zM171 419h1v57h-1zM175 401h1v75h-1zM179 390h1v86h-1zM183 383h1v93h-1zM187 377h1v99h-1zM191 367h1v109h-1zM195 366h1v110h-1zM199 373h1v103h-1zM203 380h1v96h-1zM207 393h1v83h-1zM211 407h1v69h-1zM215 414h1v62h-1zM219 422h1v54h-1zM223 435h1v41h-1zM227 439h1v37h-1zM231 447h1v29h-1zM235 454h1v22h-1zM239 457h1v19h-1zM243 459h1v17h-1zM247 470h1v6h-1zM251 475h1v7h-1zM255 475h1v19h-1zM259 475h1v29h-1zM263 475h1v40h-1zM267 475h1v44h-1zM271 475h1v42h-1zM275 475h1v37h-1zM279 475h1v20h-1zM283 475h1v8h-1zM287 470h1v6h-1zM291 452h1v24h-1zM295 455h1v21h-1zM299 455h1v21h-1zM303 455h1v21h-1zM307 464h1v12h-1zM311 463h1v13h-1zM315 462h1v14h-1zM319 463h1v13h-1zM323 464h1v12h-1zM327 466h1v10h-1zM331 459h1v17h-1zM335 453h1v23h-1zM339 444h1v32h-1zM343 437h1v39h-1zM347 432h1v44h-1zM351 430h1v46h-1zM355 428h1v48h-1zM359 430h1v46h-1zM363 423h1v53h-1zM367 415h1v61h-1zM371 410h1v66h-1zM375 410h1v66h-1zM379 409h1v67h-1zM383 410h1v66h-1zM387 413h1v63h-1zM391 417h1v59h-1zM395 437h1v39h-1zM399 456h1v20h-1zM403 468h1v8h-1zM407 475h1v2h-1zM411 475h1v11h-1zM415 475h1v14h-1zM419 475h1v17h-1zM423 475h1v15h-1zM427 475h1v11h-1zM431 475h1v2h-1zM435 472h1v4h-1zM439 466h1v10h-1zM443 465h1v11h-1zM447 467h1v9h-1zM451 464h1v12h-1zM455 459h1v17h-1zM459 449h1v27h-1zM463 438h1v38h-1zM467 434h1v42h-1zM471 428h1v48h-1zM475 427h1v49h-1zM479 423h1v53h-1zM483 421h1v55h-1zM487 416h1v60h-1zM491 411h1v65h-1zM495 409h1v67h-1zM499 401h1v75h-1zM503 389h1v87h-1zM507 378h1v98h-1zM511 372h1v104h-1zM515 372h1v104h-1zM519 368h1v108h-1zM523 366h1v110h-1zM527 366h1v110h-1zM531 365h1v111h-1zM535 364h1v112h-1zM539 363h1v113h-1zM543 357h1v119h-1zM547 358h1v118h-1zM551 364h1v112h-1zM555 372h1v104h-1zM559 377h1v99h-1zM563 384h1v92h-1zM567 392h1v84h-1zM571 402h1v74h-1zM575 411h1v65h-1zM579 415h1v61h-1zM583 414h1v62h-1zM587 414h1v62h-1zM591 409h1v67h-1zM595 412h1v64h-1zM599 413h1v63h-1z"/>
<polyline points="3.3,480.2 10.0,470.1 16.7,463.4 25.1,460.9 33.5,464.3 41.8,475.1 50.2,488.5 58.6,501.1 66.9,509.0 75.3,511.6 87.0,512.3 95.4,514.5 103.8,518.7 110.5,520.0 119.9,519.9 127.3,514.2 134.7,508.0 147.0,494.4 159.4,479.6 169.3,461.1 179.1,436.4 189.0,411.7 196.4,395.7 202.6,384.6 210.0,380.9 216.2,384.6 221.5,391.5 228.2,404.7 239.5,429.4 250.9,450.0 261.2,468.5 269.4,484.9 275.6,495.2 280.7,501.4 284.2,502.4 288.9,500.4 295.1,492.1 302.3,478.8 310.5,465.4 316.7,460.7 321.9,459.6 327.0,460.7 339.2,461.1 346.7,455.3 355.1,447.7 363.5,438.5 370.2,429.3 376.9,422.6 383.6,418.5 388.6,415.9 394.4,415.1 398.6,418.5 403.6,426.0 410.3,438.5 417.0,451.9 422.0,463.6 426.2,473.7 430.4,479.5 434.6,482.0 443.0,482.0 451.5,475.8 459.2,465.2 468.8,454.7 478.4,444.1 488.0,430.7 497.6,420.1 507.2,408.6 516.8,394.2 526.4,381.7 536.0,371.1 543.7,366.3 549.5,364.1 555.2,364.1 559.2,365.4 566.9,370.2 574.6,378.8 580.3,388.4 586.1,397.1 591.9,403.4 599.5,409.2" fill="none" stroke="#ff0000" stroke-width="2" stroke-linejoin="round" stroke-linecap="round"/>
<polyline points="3.5,576.0 7.5,575.0 11.5,573.1 15.5,579.1 19.5,589.0 23.5,602.0 27.5,615.1 31.5,635.9 35.5,661.4 39.5,679.6 43.5,683.8 47.5,681.0 51.5,677.2 55.5,672.0 59.5,659.6 63.5,642.3 67.5,629.8 71.5,623.4 75.5,625.9 79.5,630.1 83.5,639.1 87.5,653.8 91.5,664.7 95.5,669.5 99.5,662.4 103.5,656.3 107.5,648.6 111.5,642.2 115.5,634.9 119.5,626.2 123.5,615.4 127.5,601.6 131.5,591.9 135.5,590.1 139.5,594.3 143.5,600.1 147.5,599.9 151.5,592.8 155.5,580.8 159.5,567.3 163.5,560.9 167.5,556.1 171.5,556.1 175.5,552.9 179.5,553.3 183.5,553.6 187.5,556.4 191.5,556.2 195.5,556.1 199.5,558.9 203.5,570.1 207.5,588.2 211.5,610.5 215.5,634.7 219.5,657.7 223.5,674.9 227.5,686.9 231.5,692.0 235.5,693.9 239.5,690.9 243.5,686.8 247.5,685.2 251.5,685.8 255.5,689.7 259.5,691.5 263.5,691.6 267.5,687.1 271.5,677.4 275.5,659.2 279.5,630.6 283.5,601.8 287.5,577.2 291.5,564.1 295.5,560.8 299.5,568.6 303.5,584.6 307.5,600.5 311.5,611.1 315.5,616.8 319.5,617.4 323.5,621.0 327.5,627.9 331.5,635.9 335.5,635.2 339.5,618.9 343.5,594.8 347.5,573.4 351.5,564.6 355.5,567.9 359.5,576.0 363.5,577.8 367.5,571.6 371.5,559.0 375.5,553.7 379.5,554.8 383.5,564.4 387.5,576.3 391.5,591.0 395.5,613.5 399.5,640.2 403.5,667.6 407.5,681.1 411.5,682.9 415.5,676.7 419.5,670.1 423.5,662.4 427.5,652.2 431.5,636.1 435.5,617.9 439.5,600.0 443.5,590.1 447.5,586.1 451.5,586.1 455.5,580.9 459.5,570.0 463.5,557.2 467.5,550.6 471.5,551.9 475.5,561.3 479.5,568.5 483.5,572.4 487.5,566.6 491.5,560.8 495.5,555.0 499.5,552.1 503.5,549.4 507.5,547.9 511.5,549.4 515.5,553.7 519.5,557.9 523.5,558.9 527.5,554.8 531.5,549.5 535.5,547.7 539.5,549.4 543.5,551.7 547.5,553.3 551.5,556.9 555.5,571.0 559.5,592.6 563.5,618.6 567.5,634.2 571.5,645.8 575.5,657.2 579.5,673.4 583.5,674.9 587.5,657.3 591.5,622.6 595.5,600.7 599.5,589.8" fill="none" stroke="#ff0000" stroke-width="1" stroke-dasharray="3,3"/>
<polyline points="3.5,573.8 7.5,572.5 11.5,573.1 15.5,591.7 19.5,602.3 23.5,611.9 27.5,631.1 31.5,664.7 35.5,688.3 39.5,685.8 43.5,677.2 47.5,680.0 51.5,674.3 55.5,661.8 59.5,642.6 63.5,622.4 67.5,624.3 71.5,623.4 75.5,630.1 79.5,636.8 83.5,650.3 87.5,674.3 91.5,669.5 95.5,664.7 99.5,653.1 103.5,651.2 107.5,641.6 111.5,633.9 115.5,629.1 119.5,615.7 123.5,601.3 127.5,587.8 131.5,586.5 135.5,596.1 139.5,600.3 143.5,603.8 147.5,595.5 151.5,579.2 155.5,567.6 159.5,555.2 163.5,560.0 167.5,553.2 171.5,555.2 175.5,550.4 179.5,554.2 183.5,556.1 187.5,559.0 191.5,553.4 195.5,555.8 199.5,567.4 203.5,587.1 207.5,610.2 211.5,634.3 215.5,659.5 219.5,679.3 223.5,685.8 227.5,695.7 231.5,694.6 235.5,691.3 239.5,686.9 243.5,682.1 247.5,686.5 251.5,688.7 255.5,693.9 259.5,691.8 263.5,689.1 267.5,680.4 271.5,662.8 275.5,634.3 279.5,594.8 283.5,576.2 287.5,560.5 291.5,555.7 295.5,566.3 299.5,583.9 303.5,603.6 307.5,614.1 311.5,615.7 315.5,620.7 319.5,615.7 323.5,626.6 327.5,641.3 331.5,639.8 335.5,624.4 339.5,592.6 343.5,567.4 347.5,560.2 351.5,566.3 355.5,577.3 359.5,584.3 363.5,571.8 367.5,558.6 371.5,546.6 375.5,555.8 379.5,561.9 383.5,575.6 387.5,591.5 391.5,605.8 395.5,643.1 399.5,671.6 403.5,688.0 407.5,683.6 411.5,677.1 415.5,669.4 419.5,663.9 423.5,654.0 427.5,638.7 431.5,615.7 435.5,599.2 439.5,585.0 443.5,586.1 447.5,587.1 451.5,585.0 455.5,570.7 459.5,554.3 463.5,546.6 467.5,551.0 471.5,558.0 475.5,574.8 479.5,572.7 483.5,569.6 487.5,557.5 491.5,555.4 495.5,552.1 499.5,548.8 503.5,547.2 507.5,547.7 511.5,553.2 515.5,560.2 519.5,560.2 523.5,556.4 527.5,547.7 531.5,544.4 535.5,551.0 539.5,552.7 543.5,551.4 547.5,555.8 551.5,563.5 555.5,593.7 559.5,620.5 563.5,641.6 567.5,640.6 571.5,655.1 575.5,676.0 579.5,689.1 583.5,659.5 587.5,623.3 591.5,585.0 595.5,593.7 599.5,590.8" fill="none" stroke="#20b2aa" stroke-width="1" stroke-linejoin="round"/>
<path fill="#000" d="M2 2h673v1h-673zM2 345h673v1h-673zM2 2h1v344h-1zM674 2h1v344h-1zM2 347h673v1h-673zM2 534h673v1h-673zM2 347h1v188h-1zM674 347h1v188h-1zM2 536h673v1h-673zM2 711h673v1h-673zM2 536h1v176h-1zM674 536h1v176h-1z"/>
<text x="19.2" y="14" font-size="9.8" fill="#000" stroke="#000" stroke-width="0.25" textLength="54.4" lengthAdjust="spacingAndGlyphs">AUDUSD,H4</text>
<text x="80.3" y="14" font-size="9.8" fill="#000" stroke="#000" stroke-width="0.25" textLength="32.2" lengthAdjust="spacingAndGlyphs">0.92615</text>
<text x="116.6" y="14" font-size="9.8" fill="#000" stroke="#000" stroke-width="0.25" textLength="31.8" lengthAdjust="spacingAndGlyphs">0.92799</text>
<text x="152.7" y="14" font-size="9.8" fill="#000" stroke="#000" stroke-width="0.25" textLength="32.3" lengthAdjust="spacingAndGlyphs">0.92592</text>
<text x="188.9" y="14" font-size="9.8" fill="#000" stroke="#000" stroke-width="0.25" textLength="31.2" lengthAdjust="spacingAndGlyphs">0.92727</text>
<text x="7.1" y="360" font-size="9.8" fill="#000" stroke="#000" stroke-width="0.25" textLength="65.4" lengthAdjust="spacingAndGlyphs">MACD(12,26,9)</text>
<text x="77" y="360" font-size="9.8" fill="#000" stroke="#000" stroke-width="0.25" textLength="36.8" lengthAdjust="spacingAndGlyphs">0.002316</text>
<text x="117.9" y="360" font-size="9.8" fill="#000" stroke="#000" stroke-width="0.25" textLength="36.1" lengthAdjust="spacingAndGlyphs">0.002451</text>
<text x="7.4" y="549" font-size="9.8" fill="#000" stroke="#000" stroke-width="0.25" textLength="54" lengthAdjust="spacingAndGlyphs">Stoch(13,3,3)</text>
<text x="65.2" y="549" font-size="9.8" fill="#000" stroke="#000" stroke-width="0.25" textLength="33" lengthAdjust="spacingAndGlyphs">69.3431</text>
<text x="101.6" y="549" font-size="9.8" fill="#000" stroke="#000" stroke-width="0.25" textLength="31.9" lengthAdjust="spacingAndGlyphs">70.0602</text>
<text x="7.7" y="707" font-size="9.8" fill="#000" stroke="#000" stroke-width="0.25" textLength="229.3" lengthAdjust="spacingAndGlyphs">FxPro MT4, © 2001-2014, MetaQuotes Software Corp.</text>
<path fill="#000" d="M3 712h1v3h-1z"/>
<text x="1.7" y="724" font-size="9.8" fill="#000" stroke="#000" stroke-width="0.25" textLength="52.3" lengthAdjust="spacingAndGlyphs">25 Feb 2014</text>
<path fill="#000" d="M67 712h1v3h-1z"/>
<text x="66.5" y="724" font-size="9.8" fill="#000" stroke="#000" stroke-width="0.25" textLength="54" lengthAdjust="spacingAndGlyphs">28 Feb 04:00</text>
<path fill="#000" d="M131 712h1v3h-1z"/>
<text x="130.5" y="724" font-size="9.8" fill="#000" stroke="#000" stroke-width="0.25" textLength="49.5" lengthAdjust="spacingAndGlyphs">4 Mar 20:00</text>
<path fill="#000" d="M195 712h1v3h-1z"/>
<text x="194.5" y="724" font-size="9.8" fill="#000" stroke="#000" stroke-width="0.25" textLength="49.5" lengthAdjust="spacingAndGlyphs">7 Mar 12:00</text>
<path fill="#000" d="M259 712h1v3h-1z"/>
<text x="258.5" y="724" font-size="9.8" fill="#000" stroke="#000" stroke-width="0.25" textLength="54" lengthAdjust="spacingAndGlyphs">12 Mar 04:00</text>
<path fill="#000" d="M323 712h1v3h-1z"/>
<text x="322.5" y="724" font-size="9.8" fill="#000" stroke="#000" stroke-width="0.25" textLength="54" lengthAdjust="spacingAndGlyphs">14 Mar 20:00</text>
<path fill="#000" d="M387 712h1v3h-1z"/>
<text x="386.5" y="724" font-size="9.8" fill="#000" stroke="#000" stroke-width="0.25" textLength="54" lengthAdjust="spacingAndGlyphs">19 Mar 12:00</text>
<path fill="#000" d="M451 712h1v3h-1z"/>
<text x="450.5" y="724" font-size="9.8" fill="#000" stroke="#000" stroke-width="0.25" textLength="54" lengthAdjust="spacingAndGlyphs">24 Mar 04:00</text>
<path fill="#000" d="M515 712h1v3h-1z"/>
<text x="514.5" y="724" font-size="9.8" fill="#000" stroke="#000" stroke-width="0.25" textLength="54" lengthAdjust="spacingAndGlyphs">26 Mar 20:00</text>
<path fill="#000" d="M579 712h1v3h-1z"/>
<text x="578.5" y="724" font-size="9.8" fill="#000" stroke="#000" stroke-width="0.25" textLength="54" lengthAdjust="spacingAndGlyphs">31 Mar 12:00</text>
<path fill="#000" d="M675 12h2v1h-2z"/>
<text x="680" y="15" font-size="9.8" fill="#000" stroke="#000" stroke-width="0.25" textLength="32.6" lengthAdjust="spacingAndGlyphs">0.93120</text>
<path fill="#000" d="M675 45h2v1h-2z"/>
<text x="680" y="48" font-size="9.8" fill="#000" stroke="#000" stroke-width="0.25" textLength="32.6" lengthAdjust="spacingAndGlyphs">0.92690</text>
<path fill="#000" d="M675 78h2v1h-2z"/>
<text x="680" y="81" font-size="9.8" fill="#000" stroke="#000" stroke-width="0.25" textLength="32.6" lengthAdjust="spacingAndGlyphs">0.92260</text>
<path fill="#000" d="M675 111h2v1h-2z"/>
<text x="680" y="114" font-size="9.8" fill="#000" stroke="#000" stroke-width="0.25" textLength="32.6" lengthAdjust="spacingAndGlyphs">0.91830</text>
<path fill="#000" d="M675 144h2v1h-2z"/>
<text x="680" y="147" font-size="9.8" fill="#000" stroke="#000" stroke-width="0.25" textLength="32.6" lengthAdjust="spacingAndGlyphs">0.91400</text>
<path fill="#000" d="M675 177h2v1h-2z"/>
<text x="680" y="180" font-size="9.8" fill="#000" stroke="#000" stroke-width="0.25" textLength="32.6" lengthAdjust="spacingAndGlyphs">0.90970</text>
<path fill="#000" d="M675 210h2v1h-2z"/>
<text x="680" y="213" font-size="9.8" fill="#000" stroke="#000" stroke-width="0.25" textLength="32.6" lengthAdjust="spacingAndGlyphs">0.90540</text>
<path fill="#000" d="M675 243h2v1h-2z"/>
<text x="680" y="246" font-size="9.8" fill="#000" stroke="#000" stroke-width="0.25" textLength="32.6" lengthAdjust="spacingAndGlyphs">0.90110</text>
<path fill="#000" d="M675 276h2v1h-2z"/>
<text x="680" y="279" font-size="9.8" fill="#000" stroke="#000" stroke-width="0.25" textLength="32.6" lengthAdjust="spacingAndGlyphs">0.89680</text>
<path fill="#000" d="M675 309h2v1h-2z"/>
<text x="680" y="312" font-size="9.8" fill="#000" stroke="#000" stroke-width="0.25" textLength="32.6" lengthAdjust="spacingAndGlyphs">0.89250</text>
<path fill="#000" d="M675 342h2v1h-2z"/>
<text x="680" y="345" font-size="9.8" fill="#000" stroke="#000" stroke-width="0.25" textLength="32.6" lengthAdjust="spacingAndGlyphs">0.88820</text>
<path fill="#000" d="M676 36h41v11h-41z"/>
<text x="680" y="45" font-size="9.8" fill="#fff" stroke="#fff" stroke-width="0.25" textLength="32.6" lengthAdjust="spacingAndGlyphs">0.92727</text>
<path fill="#90ee90" d="M676 46h41v11h-41z"/>
<text x="680" y="55" font-size="9.8" fill="#fff" stroke="#fff" stroke-width="0.25" textLength="32.6" lengthAdjust="spacingAndGlyphs">0.92600</text>
<path fill="#90ee90" d="M676 57h41v11h-41z"/>
<text x="680" y="66" font-size="9.8" fill="#fff" stroke="#fff" stroke-width="0.25" textLength="32.6" lengthAdjust="spacingAndGlyphs">0.92450</text>
<path fill="#90ee90" d="M676 79h41v11h-41z"/>
<text x="680" y="88" font-size="9.8" fill="#fff" stroke="#fff" stroke-width="0.25" textLength="32.6" lengthAdjust="spacingAndGlyphs">0.92175</text>
<path fill="#90ee90" d="M676 92h41v11h-41z"/>
<text x="680" y="101" font-size="9.8" fill="#fff" stroke="#fff" stroke-width="0.25" textLength="32.6" lengthAdjust="spacingAndGlyphs">0.92000</text>
<path fill="#90ee90" d="M676 113h41v11h-41z"/>
<text x="680" y="122" font-size="9.8" fill="#fff" stroke="#fff" stroke-width="0.25" textLength="32.6" lengthAdjust="spacingAndGlyphs">0.91725</text>
<path fill="#90ee90" d="M676 130h41v11h-41z"/>
<text x="680" y="139" font-size="9.8" fill="#fff" stroke="#fff" stroke-width="0.25" textLength="32.6" lengthAdjust="spacingAndGlyphs">0.91500</text>
<path fill="#90ee90" d="M676 155h41v11h-41z"/>
<text x="680" y="164" font-size="9.8" fill="#fff" stroke="#fff" stroke-width="0.25" textLength="32.6" lengthAdjust="spacingAndGlyphs">0.91175</text>
<path fill="#90ee90" d="M676 173h41v11h-41z"/>
<text x="680" y="182" font-size="9.8" fill="#fff" stroke="#fff" stroke-width="0.25" textLength="32.6" lengthAdjust="spacingAndGlyphs">0.90950</text>
<path fill="#90ee90" d="M676 194h41v11h-41z"/>
<text x="680" y="203" font-size="9.8" fill="#fff" stroke="#fff" stroke-width="0.25" textLength="32.6" lengthAdjust="spacingAndGlyphs">0.90675</text>
<path fill="#90ee90" d="M676 213h41v11h-41z"/>
<text x="680" y="222" font-size="9.8" fill="#fff" stroke="#fff" stroke-width="0.25" textLength="32.6" lengthAdjust="spacingAndGlyphs">0.90425</text>
<path fill="#90ee90" d="M676 226h41v11h-41z"/>
<text x="680" y="235" font-size="9.8" fill="#fff" stroke="#fff" stroke-width="0.25" textLength="32.6" lengthAdjust="spacingAndGlyphs">0.90250</text>
<path fill="#90ee90" d="M676 249h41v11h-41z"/>
<text x="680" y="258" font-size="9.8" fill="#fff" stroke="#fff" stroke-width="0.25" textLength="32.6" lengthAdjust="spacingAndGlyphs">0.89950</text>
<path fill="#90ee90" d="M676 288h41v11h-41z"/>
<text x="680" y="297" font-size="9.8" fill="#fff" stroke="#fff" stroke-width="0.25" textLength="32.6" lengthAdjust="spacingAndGlyphs">0.89450</text>
<path fill="#90ee90" d="M676 301h41v11h-41z"/>
<text x="680" y="310" font-size="9.8" fill="#fff" stroke="#fff" stroke-width="0.25" textLength="32.6" lengthAdjust="spacingAndGlyphs">0.89275</text>
<path fill="#90ee90" d="M676 315h41v11h-41z"/>
<text x="680" y="324" font-size="9.8" fill="#fff" stroke="#fff" stroke-width="0.25" textLength="32.6" lengthAdjust="spacingAndGlyphs">0.89100</text>
<path fill="#008080" d="M676 19h41v11h-41z"/>
<text x="680" y="28" font-size="9.8" fill="#fff" stroke="#fff" stroke-width="0.25" textLength="32.6" lengthAdjust="spacingAndGlyphs">0.92950</text>
<path fill="#008080" d="M676 330h41v11h-41z"/>
<text x="680" y="339" font-size="9.8" fill="#fff" stroke="#fff" stroke-width="0.25" textLength="32.6" lengthAdjust="spacingAndGlyphs">0.88900</text>
<path fill="#000" d="M675 349h1v1h-1z"/>
<text x="678.3" y="358" font-size="9.8" fill="#000" stroke="#000" stroke-width="0.25" textLength="36.7" lengthAdjust="spacingAndGlyphs">0.004683</text>
<path fill="#000" d="M675 475h2v1h-2z"/>
<text x="678.3" y="478" font-size="9.8" fill="#000" stroke="#000" stroke-width="0.25" textLength="17.6" lengthAdjust="spacingAndGlyphs">0.00</text>
<path fill="#000" d="M675 533h1v1h-1z"/>
<text x="678.3" y="531" font-size="9.8" fill="#000" stroke="#000" stroke-width="0.25" textLength="41" lengthAdjust="spacingAndGlyphs">-0.002157</text>
<path fill="#000" d="M675 538h1v1h-1z"/>
<text x="678.8" y="547" font-size="9.8" fill="#000" stroke="#000" stroke-width="0.25" textLength="14.5" lengthAdjust="spacingAndGlyphs">100</text>
<path fill="#000" d="M675 572h2v1h-2z"/>
<text x="677.5" y="575" font-size="9.8" fill="#000" stroke="#000" stroke-width="0.25" textLength="10.5" lengthAdjust="spacingAndGlyphs">80</text>
<path fill="#000" d="M675 676h2v1h-2z"/>
<text x="677.5" y="679" font-size="9.8" fill="#000" stroke="#000" stroke-width="0.25" textLength="10.5" lengthAdjust="spacingAndGlyphs">20</text>
<path fill="#000" d="M675 710h1v1h-1z"/>
<text x="678" y="708" font-size="9.8" fill="#000" stroke="#000" stroke-width="0.25" textLength="5" lengthAdjust="spacingAndGlyphs">0</text></svg></body></html>
